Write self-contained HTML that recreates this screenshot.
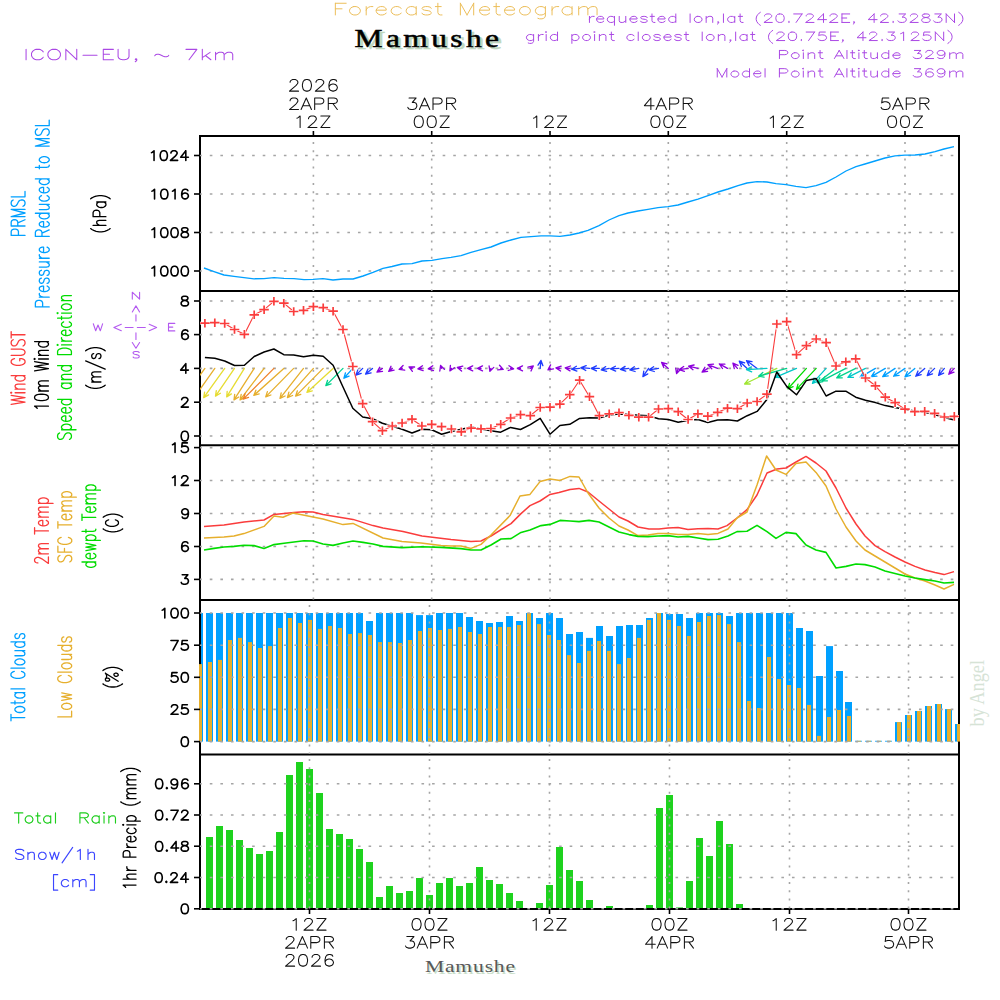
<!DOCTYPE html><html><head><meta charset="utf-8"><style>html,body{margin:0;padding:0;background:#fff;width:1000px;height:1000px;overflow:hidden}svg{display:block}</style></head><body><svg width="1000" height="1000" viewBox="0 0 1000 1000">
<defs><clipPath id="cp"><rect x="200" y="136" width="759" height="773"/></clipPath></defs>
<rect x="0" y="0" width="1000" height="1000" fill="#fff"/>
<rect x="200.0" y="613.0" width="3.0" height="128.6" fill="rgb(0,160,255)"/>
<rect x="206.0" y="613.0" width="7.0" height="128.6" fill="rgb(0,160,255)"/>
<rect x="216.0" y="613.0" width="7.0" height="128.6" fill="rgb(0,160,255)"/>
<rect x="226.0" y="613.0" width="7.0" height="128.6" fill="rgb(0,160,255)"/>
<rect x="236.0" y="613.0" width="7.0" height="128.6" fill="rgb(0,160,255)"/>
<rect x="246.0" y="613.0" width="7.0" height="128.6" fill="rgb(0,160,255)"/>
<rect x="256.0" y="613.0" width="7.0" height="128.6" fill="rgb(0,160,255)"/>
<rect x="266.0" y="613.0" width="7.0" height="128.6" fill="rgb(0,160,255)"/>
<rect x="276.0" y="613.0" width="7.0" height="128.6" fill="rgb(0,160,255)"/>
<rect x="286.0" y="613.0" width="7.0" height="128.6" fill="rgb(0,160,255)"/>
<rect x="296.0" y="613.0" width="7.0" height="128.6" fill="rgb(0,160,255)"/>
<rect x="306.0" y="613.0" width="7.0" height="128.6" fill="rgb(0,160,255)"/>
<rect x="316.0" y="613.0" width="7.0" height="128.6" fill="rgb(0,160,255)"/>
<rect x="326.0" y="613.0" width="7.0" height="128.6" fill="rgb(0,160,255)"/>
<rect x="336.0" y="613.0" width="7.0" height="128.6" fill="rgb(0,160,255)"/>
<rect x="346.0" y="613.0" width="7.0" height="128.6" fill="rgb(0,160,255)"/>
<rect x="356.0" y="613.0" width="7.0" height="128.6" fill="rgb(0,160,255)"/>
<rect x="366.0" y="621.0" width="7.0" height="120.6" fill="rgb(0,160,255)"/>
<rect x="376.0" y="613.0" width="7.0" height="128.6" fill="rgb(0,160,255)"/>
<rect x="386.0" y="613.0" width="7.0" height="128.6" fill="rgb(0,160,255)"/>
<rect x="396.0" y="613.0" width="7.0" height="128.6" fill="rgb(0,160,255)"/>
<rect x="406.0" y="613.0" width="7.0" height="128.6" fill="rgb(0,160,255)"/>
<rect x="416.0" y="615.1" width="7.0" height="126.5" fill="rgb(0,160,255)"/>
<rect x="426.0" y="615.1" width="7.0" height="126.5" fill="rgb(0,160,255)"/>
<rect x="436.0" y="613.0" width="7.0" height="128.6" fill="rgb(0,160,255)"/>
<rect x="446.0" y="613.0" width="7.0" height="128.6" fill="rgb(0,160,255)"/>
<rect x="456.0" y="613.0" width="7.0" height="128.6" fill="rgb(0,160,255)"/>
<rect x="466.0" y="617.0" width="7.0" height="124.6" fill="rgb(0,160,255)"/>
<rect x="476.0" y="621.0" width="7.0" height="120.6" fill="rgb(0,160,255)"/>
<rect x="486.0" y="623.0" width="7.0" height="118.6" fill="rgb(0,160,255)"/>
<rect x="496.0" y="622.0" width="7.0" height="119.6" fill="rgb(0,160,255)"/>
<rect x="506.0" y="616.0" width="7.0" height="125.6" fill="rgb(0,160,255)"/>
<rect x="516.0" y="621.0" width="7.0" height="120.6" fill="rgb(0,160,255)"/>
<rect x="526.0" y="613.0" width="7.0" height="128.6" fill="rgb(0,160,255)"/>
<rect x="536.0" y="618.0" width="7.0" height="123.6" fill="rgb(0,160,255)"/>
<rect x="546.0" y="613.0" width="7.0" height="128.6" fill="rgb(0,160,255)"/>
<rect x="556.0" y="618.0" width="7.0" height="123.6" fill="rgb(0,160,255)"/>
<rect x="566.0" y="634.0" width="7.0" height="107.6" fill="rgb(0,160,255)"/>
<rect x="576.0" y="632.0" width="7.0" height="109.6" fill="rgb(0,160,255)"/>
<rect x="586.0" y="637.9" width="7.0" height="103.7" fill="rgb(0,160,255)"/>
<rect x="596.0" y="626.0" width="7.0" height="115.6" fill="rgb(0,160,255)"/>
<rect x="606.0" y="636.0" width="7.0" height="105.6" fill="rgb(0,160,255)"/>
<rect x="616.0" y="626.0" width="7.0" height="115.6" fill="rgb(0,160,255)"/>
<rect x="626.0" y="625.0" width="7.0" height="116.6" fill="rgb(0,160,255)"/>
<rect x="636.0" y="625.0" width="7.0" height="116.6" fill="rgb(0,160,255)"/>
<rect x="646.0" y="618.0" width="7.0" height="123.6" fill="rgb(0,160,255)"/>
<rect x="656.0" y="613.0" width="7.0" height="128.6" fill="rgb(0,160,255)"/>
<rect x="666.0" y="614.0" width="7.0" height="127.6" fill="rgb(0,160,255)"/>
<rect x="676.0" y="614.0" width="7.0" height="127.6" fill="rgb(0,160,255)"/>
<rect x="686.0" y="618.0" width="7.0" height="123.6" fill="rgb(0,160,255)"/>
<rect x="696.0" y="613.0" width="7.0" height="128.6" fill="rgb(0,160,255)"/>
<rect x="706.0" y="613.0" width="7.0" height="128.6" fill="rgb(0,160,255)"/>
<rect x="716.0" y="613.0" width="7.0" height="128.6" fill="rgb(0,160,255)"/>
<rect x="726.0" y="616.0" width="7.0" height="125.6" fill="rgb(0,160,255)"/>
<rect x="736.0" y="613.0" width="7.0" height="128.6" fill="rgb(0,160,255)"/>
<rect x="746.0" y="613.0" width="7.0" height="128.6" fill="rgb(0,160,255)"/>
<rect x="756.0" y="613.0" width="7.0" height="128.6" fill="rgb(0,160,255)"/>
<rect x="766.0" y="613.0" width="7.0" height="128.6" fill="rgb(0,160,255)"/>
<rect x="776.0" y="613.0" width="7.0" height="128.6" fill="rgb(0,160,255)"/>
<rect x="786.0" y="613.0" width="7.0" height="128.6" fill="rgb(0,160,255)"/>
<rect x="796.0" y="628.0" width="7.0" height="113.6" fill="rgb(0,160,255)"/>
<rect x="806.0" y="631.0" width="7.0" height="110.6" fill="rgb(0,160,255)"/>
<rect x="816.0" y="676.0" width="7.0" height="65.6" fill="rgb(0,160,255)"/>
<rect x="826.0" y="646.1" width="7.0" height="95.5" fill="rgb(0,160,255)"/>
<rect x="836.0" y="671.0" width="7.0" height="70.6" fill="rgb(0,160,255)"/>
<rect x="845.0" y="702.0" width="7.0" height="39.6" fill="rgb(0,160,255)"/>
<rect x="855.0" y="740.8" width="7.0" height="0.8" fill="rgb(0,160,255)"/>
<rect x="865.0" y="740.8" width="7.0" height="0.8" fill="rgb(0,160,255)"/>
<rect x="875.0" y="740.8" width="7.0" height="0.8" fill="rgb(0,160,255)"/>
<rect x="885.0" y="740.8" width="7.0" height="0.8" fill="rgb(0,160,255)"/>
<rect x="895.0" y="722.1" width="7.0" height="19.5" fill="rgb(0,160,255)"/>
<rect x="905.0" y="715.0" width="7.0" height="26.6" fill="rgb(0,160,255)"/>
<rect x="915.0" y="711.0" width="7.0" height="30.6" fill="rgb(0,160,255)"/>
<rect x="925.0" y="706.0" width="7.0" height="35.6" fill="rgb(0,160,255)"/>
<rect x="935.0" y="704.0" width="7.0" height="37.6" fill="rgb(0,160,255)"/>
<rect x="945.0" y="709.1" width="7.0" height="32.5" fill="rgb(0,160,255)"/>
<rect x="955.0" y="724.0" width="4.0" height="17.6" fill="rgb(0,160,255)"/>
<rect x="206.0" y="837.0" width="7" height="71.8" fill="rgb(30,210,30)"/>
<rect x="216.0" y="826.0" width="7" height="82.8" fill="rgb(30,210,30)"/>
<rect x="226.0" y="830.0" width="7" height="78.8" fill="rgb(30,210,30)"/>
<rect x="236.0" y="840.0" width="7" height="68.8" fill="rgb(30,210,30)"/>
<rect x="246.0" y="848.0" width="7" height="60.8" fill="rgb(30,210,30)"/>
<rect x="256.0" y="854.0" width="7" height="54.8" fill="rgb(30,210,30)"/>
<rect x="266.0" y="851.0" width="7" height="57.8" fill="rgb(30,210,30)"/>
<rect x="276.0" y="832.0" width="7" height="76.8" fill="rgb(30,210,30)"/>
<rect x="286.0" y="775.0" width="7" height="133.8" fill="rgb(30,210,30)"/>
<rect x="296.0" y="762.0" width="7" height="146.8" fill="rgb(30,210,30)"/>
<rect x="306.0" y="769.0" width="7" height="139.8" fill="rgb(30,210,30)"/>
<rect x="316.0" y="793.0" width="7" height="115.8" fill="rgb(30,210,30)"/>
<rect x="326.0" y="829.0" width="7" height="79.8" fill="rgb(30,210,30)"/>
<rect x="336.0" y="834.0" width="7" height="74.8" fill="rgb(30,210,30)"/>
<rect x="346.0" y="839.0" width="7" height="69.8" fill="rgb(30,210,30)"/>
<rect x="356.0" y="849.0" width="7" height="59.8" fill="rgb(30,210,30)"/>
<rect x="366.0" y="862.0" width="7" height="46.8" fill="rgb(30,210,30)"/>
<rect x="376.0" y="897.0" width="7" height="11.8" fill="rgb(30,210,30)"/>
<rect x="386.0" y="886.0" width="7" height="22.8" fill="rgb(30,210,30)"/>
<rect x="396.0" y="893.0" width="7" height="15.8" fill="rgb(30,210,30)"/>
<rect x="406.0" y="891.0" width="7" height="17.8" fill="rgb(30,210,30)"/>
<rect x="416.0" y="878.0" width="7" height="30.8" fill="rgb(30,210,30)"/>
<rect x="426.0" y="895.0" width="7" height="13.8" fill="rgb(30,210,30)"/>
<rect x="436.0" y="883.0" width="7" height="25.8" fill="rgb(30,210,30)"/>
<rect x="446.0" y="878.0" width="7" height="30.8" fill="rgb(30,210,30)"/>
<rect x="456.0" y="886.0" width="7" height="22.8" fill="rgb(30,210,30)"/>
<rect x="466.0" y="883.0" width="7" height="25.8" fill="rgb(30,210,30)"/>
<rect x="476.0" y="867.0" width="7" height="41.8" fill="rgb(30,210,30)"/>
<rect x="486.0" y="880.0" width="7" height="28.8" fill="rgb(30,210,30)"/>
<rect x="496.0" y="884.0" width="7" height="24.8" fill="rgb(30,210,30)"/>
<rect x="506.0" y="893.0" width="7" height="15.8" fill="rgb(30,210,30)"/>
<rect x="516.0" y="901.0" width="7" height="7.8" fill="rgb(30,210,30)"/>
<rect x="536.0" y="903.0" width="7" height="5.8" fill="rgb(30,210,30)"/>
<rect x="546.0" y="885.0" width="7" height="23.8" fill="rgb(30,210,30)"/>
<rect x="556.0" y="847.0" width="7" height="61.8" fill="rgb(30,210,30)"/>
<rect x="566.0" y="870.0" width="7" height="38.8" fill="rgb(30,210,30)"/>
<rect x="576.0" y="881.0" width="7" height="27.8" fill="rgb(30,210,30)"/>
<rect x="586.0" y="900.0" width="7" height="8.8" fill="rgb(30,210,30)"/>
<rect x="606.0" y="906.0" width="7" height="2.8" fill="rgb(30,210,30)"/>
<rect x="616.0" y="908.2" width="7" height="0.5" fill="rgb(30,210,30)"/>
<rect x="626.0" y="908.2" width="7" height="0.5" fill="rgb(30,210,30)"/>
<rect x="646.0" y="905.0" width="7" height="3.8" fill="rgb(30,210,30)"/>
<rect x="656.0" y="808.0" width="7" height="100.8" fill="rgb(30,210,30)"/>
<rect x="666.0" y="795.0" width="7" height="113.8" fill="rgb(30,210,30)"/>
<rect x="676.0" y="907.4" width="7" height="1.4" fill="rgb(30,210,30)"/>
<rect x="686.0" y="881.0" width="7" height="27.8" fill="rgb(30,210,30)"/>
<rect x="696.0" y="838.0" width="7" height="70.8" fill="rgb(30,210,30)"/>
<rect x="706.0" y="856.0" width="7" height="52.8" fill="rgb(30,210,30)"/>
<rect x="716.0" y="821.0" width="7" height="87.8" fill="rgb(30,210,30)"/>
<rect x="726.0" y="844.0" width="7" height="64.8" fill="rgb(30,210,30)"/>
<rect x="736.0" y="904.0" width="7" height="4.8" fill="rgb(30,210,30)"/>
<rect x="746.0" y="908.2" width="7" height="0.5" fill="rgb(30,210,30)"/>
<g stroke="#000" stroke-width="2" fill="none">
<path d="M200,136.1 H959 V909 H200 Z" stroke-width="2"/>
<line x1="200" y1="291" x2="959" y2="291"/>
<line x1="200" y1="445.2" x2="959" y2="445.2"/>
<line x1="200" y1="600" x2="959" y2="600"/>
<line x1="200" y1="754.4" x2="959" y2="754.4"/>
</g>
<rect x="199.0" y="664.1" width="3.0" height="77.5" fill="rgb(230,175,45)"/>
<rect x="208.0" y="662.0" width="4.0" height="79.6" fill="rgb(230,175,45)"/>
<rect x="218.0" y="659.9" width="4.0" height="81.7" fill="rgb(230,175,45)"/>
<rect x="228.0" y="640.0" width="4.0" height="101.6" fill="rgb(230,175,45)"/>
<rect x="238.0" y="637.9" width="4.0" height="103.7" fill="rgb(230,175,45)"/>
<rect x="248.0" y="642.1" width="4.0" height="99.5" fill="rgb(230,175,45)"/>
<rect x="258.0" y="648.0" width="4.0" height="93.6" fill="rgb(230,175,45)"/>
<rect x="268.0" y="646.1" width="4.0" height="95.5" fill="rgb(230,175,45)"/>
<rect x="278.0" y="628.0" width="4.0" height="113.6" fill="rgb(230,175,45)"/>
<rect x="288.0" y="618.0" width="4.0" height="123.6" fill="rgb(230,175,45)"/>
<rect x="298.0" y="623.0" width="4.0" height="118.6" fill="rgb(230,175,45)"/>
<rect x="308.0" y="619.9" width="4.0" height="121.7" fill="rgb(230,175,45)"/>
<rect x="318.0" y="628.9" width="4.0" height="112.7" fill="rgb(230,175,45)"/>
<rect x="328.0" y="626.0" width="4.0" height="115.6" fill="rgb(230,175,45)"/>
<rect x="338.0" y="628.0" width="4.0" height="113.6" fill="rgb(230,175,45)"/>
<rect x="348.0" y="634.0" width="4.0" height="107.6" fill="rgb(230,175,45)"/>
<rect x="358.0" y="633.1" width="4.0" height="108.5" fill="rgb(230,175,45)"/>
<rect x="368.0" y="635.0" width="4.0" height="106.6" fill="rgb(230,175,45)"/>
<rect x="378.0" y="642.1" width="4.0" height="99.5" fill="rgb(230,175,45)"/>
<rect x="388.0" y="642.1" width="4.0" height="99.5" fill="rgb(230,175,45)"/>
<rect x="398.0" y="643.0" width="4.0" height="98.6" fill="rgb(230,175,45)"/>
<rect x="408.0" y="640.0" width="4.0" height="101.6" fill="rgb(230,175,45)"/>
<rect x="418.0" y="631.0" width="4.0" height="110.6" fill="rgb(230,175,45)"/>
<rect x="428.0" y="628.0" width="4.0" height="113.6" fill="rgb(230,175,45)"/>
<rect x="438.0" y="630.0" width="4.0" height="111.6" fill="rgb(230,175,45)"/>
<rect x="448.0" y="628.9" width="4.0" height="112.7" fill="rgb(230,175,45)"/>
<rect x="458.0" y="627.0" width="4.0" height="114.6" fill="rgb(230,175,45)"/>
<rect x="468.0" y="632.0" width="4.0" height="109.6" fill="rgb(230,175,45)"/>
<rect x="478.0" y="634.0" width="4.0" height="107.6" fill="rgb(230,175,45)"/>
<rect x="488.0" y="627.0" width="4.0" height="114.6" fill="rgb(230,175,45)"/>
<rect x="498.0" y="627.0" width="4.0" height="114.6" fill="rgb(230,175,45)"/>
<rect x="507.0" y="627.0" width="4.0" height="114.6" fill="rgb(230,175,45)"/>
<rect x="517.0" y="625.0" width="4.0" height="116.6" fill="rgb(230,175,45)"/>
<rect x="527.0" y="613.0" width="4.0" height="128.6" fill="rgb(230,175,45)"/>
<rect x="537.0" y="624.1" width="4.0" height="117.5" fill="rgb(230,175,45)"/>
<rect x="547.0" y="635.0" width="4.0" height="106.6" fill="rgb(230,175,45)"/>
<rect x="557.0" y="640.0" width="4.0" height="101.6" fill="rgb(230,175,45)"/>
<rect x="567.0" y="655.1" width="4.0" height="86.5" fill="rgb(230,175,45)"/>
<rect x="577.0" y="663.0" width="4.0" height="78.6" fill="rgb(230,175,45)"/>
<rect x="587.0" y="650.9" width="4.0" height="90.7" fill="rgb(230,175,45)"/>
<rect x="597.0" y="641.0" width="4.0" height="100.6" fill="rgb(230,175,45)"/>
<rect x="607.0" y="650.9" width="4.0" height="90.7" fill="rgb(230,175,45)"/>
<rect x="617.0" y="664.1" width="4.0" height="77.5" fill="rgb(230,175,45)"/>
<rect x="627.0" y="658.0" width="4.0" height="83.6" fill="rgb(230,175,45)"/>
<rect x="637.0" y="637.9" width="4.0" height="103.7" fill="rgb(230,175,45)"/>
<rect x="647.0" y="619.9" width="4.0" height="121.7" fill="rgb(230,175,45)"/>
<rect x="657.0" y="613.0" width="4.0" height="128.6" fill="rgb(230,175,45)"/>
<rect x="667.0" y="619.9" width="4.0" height="121.7" fill="rgb(230,175,45)"/>
<rect x="677.0" y="626.0" width="4.0" height="115.6" fill="rgb(230,175,45)"/>
<rect x="687.0" y="636.0" width="4.0" height="105.6" fill="rgb(230,175,45)"/>
<rect x="697.0" y="622.0" width="4.0" height="119.6" fill="rgb(230,175,45)"/>
<rect x="707.0" y="616.0" width="4.0" height="125.6" fill="rgb(230,175,45)"/>
<rect x="717.0" y="615.1" width="4.0" height="126.5" fill="rgb(230,175,45)"/>
<rect x="727.0" y="624.1" width="4.0" height="117.5" fill="rgb(230,175,45)"/>
<rect x="737.0" y="642.1" width="4.0" height="99.5" fill="rgb(230,175,45)"/>
<rect x="747.0" y="701.0" width="4.0" height="40.6" fill="rgb(230,175,45)"/>
<rect x="757.0" y="708.0" width="4.0" height="33.6" fill="rgb(230,175,45)"/>
<rect x="767.0" y="657.0" width="4.0" height="84.6" fill="rgb(230,175,45)"/>
<rect x="777.0" y="679.0" width="4.0" height="62.6" fill="rgb(230,175,45)"/>
<rect x="787.0" y="685.0" width="4.0" height="56.6" fill="rgb(230,175,45)"/>
<rect x="797.0" y="688.0" width="4.0" height="53.6" fill="rgb(230,175,45)"/>
<rect x="807.0" y="704.9" width="4.0" height="36.7" fill="rgb(230,175,45)"/>
<rect x="817.0" y="735.9" width="4.0" height="5.7" fill="rgb(230,175,45)"/>
<rect x="827.0" y="717.0" width="4.0" height="24.6" fill="rgb(230,175,45)"/>
<rect x="837.0" y="710.0" width="4.0" height="31.6" fill="rgb(230,175,45)"/>
<rect x="847.0" y="716.0" width="4.0" height="25.6" fill="rgb(230,175,45)"/>
<rect x="857.0" y="740.8" width="4.0" height="0.8" fill="rgb(230,175,45)"/>
<rect x="867.0" y="740.8" width="4.0" height="0.8" fill="rgb(230,175,45)"/>
<rect x="877.0" y="740.8" width="4.0" height="0.8" fill="rgb(230,175,45)"/>
<rect x="887.0" y="740.8" width="4.0" height="0.8" fill="rgb(230,175,45)"/>
<rect x="897.0" y="722.1" width="4.0" height="19.5" fill="rgb(230,175,45)"/>
<rect x="907.0" y="715.0" width="4.0" height="26.6" fill="rgb(230,175,45)"/>
<rect x="917.0" y="711.0" width="4.0" height="30.6" fill="rgb(230,175,45)"/>
<rect x="927.0" y="706.0" width="4.0" height="35.6" fill="rgb(230,175,45)"/>
<rect x="937.0" y="704.0" width="4.0" height="37.6" fill="rgb(230,175,45)"/>
<rect x="947.0" y="709.1" width="4.0" height="32.5" fill="rgb(230,175,45)"/>
<rect x="957.0" y="724.0" width="3.0" height="17.6" fill="rgb(230,175,45)"/>
<line x1="200" y1="155.5" x2="959" y2="155.5" stroke="rgb(165,165,165)" stroke-width="1.6" stroke-dasharray="2.6 7.985" stroke-dashoffset="0.8"/>
<line x1="200" y1="194.0" x2="959" y2="194.0" stroke="rgb(165,165,165)" stroke-width="1.6" stroke-dasharray="2.6 7.985" stroke-dashoffset="0.8"/>
<line x1="200" y1="232.5" x2="959" y2="232.5" stroke="rgb(165,165,165)" stroke-width="1.6" stroke-dasharray="2.6 7.985" stroke-dashoffset="0.8"/>
<line x1="200" y1="271.0" x2="959" y2="271.0" stroke="rgb(165,165,165)" stroke-width="1.6" stroke-dasharray="2.6 7.985" stroke-dashoffset="0.8"/>
<line x1="200" y1="301.0" x2="959" y2="301.0" stroke="rgb(165,165,165)" stroke-width="1.6" stroke-dasharray="2.6 7.985" stroke-dashoffset="0.8"/>
<line x1="200" y1="334.6" x2="959" y2="334.6" stroke="rgb(165,165,165)" stroke-width="1.6" stroke-dasharray="2.6 7.985" stroke-dashoffset="0.8"/>
<line x1="200" y1="368.4" x2="959" y2="368.4" stroke="rgb(165,165,165)" stroke-width="1.6" stroke-dasharray="2.6 7.985" stroke-dashoffset="0.8"/>
<line x1="200" y1="402.2" x2="959" y2="402.2" stroke="rgb(165,165,165)" stroke-width="1.6" stroke-dasharray="2.6 7.985" stroke-dashoffset="0.8"/>
<line x1="200" y1="436.0" x2="959" y2="436.0" stroke="rgb(165,165,165)" stroke-width="1.6" stroke-dasharray="2.6 7.985" stroke-dashoffset="0.8"/>
<line x1="200" y1="447.6" x2="959" y2="447.6" stroke="rgb(165,165,165)" stroke-width="1.6" stroke-dasharray="2.6 7.985" stroke-dashoffset="0.8"/>
<line x1="200" y1="480.5" x2="959" y2="480.5" stroke="rgb(165,165,165)" stroke-width="1.6" stroke-dasharray="2.6 7.985" stroke-dashoffset="0.8"/>
<line x1="200" y1="513.5" x2="959" y2="513.5" stroke="rgb(165,165,165)" stroke-width="1.6" stroke-dasharray="2.6 7.985" stroke-dashoffset="0.8"/>
<line x1="200" y1="546.5" x2="959" y2="546.5" stroke="rgb(165,165,165)" stroke-width="1.6" stroke-dasharray="2.6 7.985" stroke-dashoffset="0.8"/>
<line x1="200" y1="579.4" x2="959" y2="579.4" stroke="rgb(165,165,165)" stroke-width="1.6" stroke-dasharray="2.6 7.985" stroke-dashoffset="0.8"/>
<line x1="200" y1="613.0" x2="959" y2="613.0" stroke="rgb(165,165,165)" stroke-width="1.6" stroke-dasharray="2.6 7.985" stroke-dashoffset="0.8"/>
<line x1="200" y1="645.2" x2="959" y2="645.2" stroke="rgb(165,165,165)" stroke-width="1.6" stroke-dasharray="2.6 7.985" stroke-dashoffset="0.8"/>
<line x1="200" y1="677.3" x2="959" y2="677.3" stroke="rgb(165,165,165)" stroke-width="1.6" stroke-dasharray="2.6 7.985" stroke-dashoffset="0.8"/>
<line x1="200" y1="709.4" x2="959" y2="709.4" stroke="rgb(165,165,165)" stroke-width="1.6" stroke-dasharray="2.6 7.985" stroke-dashoffset="0.8"/>
<line x1="200" y1="741.6" x2="959" y2="741.6" stroke="rgb(165,165,165)" stroke-width="1.6" stroke-dasharray="2.6 7.985" stroke-dashoffset="0.8"/>
<line x1="200" y1="783.8" x2="959" y2="783.8" stroke="rgb(165,165,165)" stroke-width="1.6" stroke-dasharray="2.6 7.985" stroke-dashoffset="0.8"/>
<line x1="200" y1="815.0" x2="959" y2="815.0" stroke="rgb(165,165,165)" stroke-width="1.6" stroke-dasharray="2.6 7.985" stroke-dashoffset="0.8"/>
<line x1="200" y1="846.2" x2="959" y2="846.2" stroke="rgb(165,165,165)" stroke-width="1.6" stroke-dasharray="2.6 7.985" stroke-dashoffset="0.8"/>
<line x1="200" y1="877.5" x2="959" y2="877.5" stroke="rgb(165,165,165)" stroke-width="1.6" stroke-dasharray="2.6 7.985" stroke-dashoffset="0.8"/>
<line x1="200" y1="908.8" x2="959" y2="908.8" stroke="rgb(165,165,165)" stroke-width="1.6" stroke-dasharray="2.6 7.985" stroke-dashoffset="0.8"/>
<line x1="313.4" y1="142.0" x2="313.4" y2="291.0" stroke="rgb(165,165,165)" stroke-width="1.6" stroke-dasharray="2 6.2"/>
<line x1="313.4" y1="296.0" x2="313.4" y2="445.0" stroke="rgb(165,165,165)" stroke-width="1.6" stroke-dasharray="2 6.2"/>
<line x1="313.4" y1="450.0" x2="313.4" y2="600.0" stroke="rgb(165,165,165)" stroke-width="1.6" stroke-dasharray="2 6.2"/>
<line x1="431.7" y1="142.0" x2="431.7" y2="291.0" stroke="rgb(165,165,165)" stroke-width="1.6" stroke-dasharray="2 6.2"/>
<line x1="431.7" y1="296.0" x2="431.7" y2="445.0" stroke="rgb(165,165,165)" stroke-width="1.6" stroke-dasharray="2 6.2"/>
<line x1="431.7" y1="450.0" x2="431.7" y2="600.0" stroke="rgb(165,165,165)" stroke-width="1.6" stroke-dasharray="2 6.2"/>
<line x1="550.0" y1="142.0" x2="550.0" y2="291.0" stroke="rgb(165,165,165)" stroke-width="1.6" stroke-dasharray="2 6.2"/>
<line x1="550.0" y1="296.0" x2="550.0" y2="445.0" stroke="rgb(165,165,165)" stroke-width="1.6" stroke-dasharray="2 6.2"/>
<line x1="550.0" y1="450.0" x2="550.0" y2="600.0" stroke="rgb(165,165,165)" stroke-width="1.6" stroke-dasharray="2 6.2"/>
<line x1="668.3" y1="142.0" x2="668.3" y2="291.0" stroke="rgb(165,165,165)" stroke-width="1.6" stroke-dasharray="2 6.2"/>
<line x1="668.3" y1="296.0" x2="668.3" y2="445.0" stroke="rgb(165,165,165)" stroke-width="1.6" stroke-dasharray="2 6.2"/>
<line x1="668.3" y1="450.0" x2="668.3" y2="600.0" stroke="rgb(165,165,165)" stroke-width="1.6" stroke-dasharray="2 6.2"/>
<line x1="786.7" y1="142.0" x2="786.7" y2="291.0" stroke="rgb(165,165,165)" stroke-width="1.6" stroke-dasharray="2 6.2"/>
<line x1="786.7" y1="296.0" x2="786.7" y2="445.0" stroke="rgb(165,165,165)" stroke-width="1.6" stroke-dasharray="2 6.2"/>
<line x1="786.7" y1="450.0" x2="786.7" y2="600.0" stroke="rgb(165,165,165)" stroke-width="1.6" stroke-dasharray="2 6.2"/>
<line x1="905.0" y1="142.0" x2="905.0" y2="291.0" stroke="rgb(165,165,165)" stroke-width="1.6" stroke-dasharray="2 6.2"/>
<line x1="905.0" y1="296.0" x2="905.0" y2="445.0" stroke="rgb(165,165,165)" stroke-width="1.6" stroke-dasharray="2 6.2"/>
<line x1="905.0" y1="450.0" x2="905.0" y2="600.0" stroke="rgb(165,165,165)" stroke-width="1.6" stroke-dasharray="2 6.2"/>
<line x1="309.5" y1="605.0" x2="309.5" y2="754.0" stroke="rgb(165,165,165)" stroke-width="1.6" stroke-dasharray="2 6.2"/>
<line x1="309.5" y1="759.0" x2="309.5" y2="909.0" stroke="rgb(165,165,165)" stroke-width="1.6" stroke-dasharray="2 6.2"/>
<line x1="429.5" y1="605.0" x2="429.5" y2="754.0" stroke="rgb(165,165,165)" stroke-width="1.6" stroke-dasharray="2 6.2"/>
<line x1="429.5" y1="759.0" x2="429.5" y2="909.0" stroke="rgb(165,165,165)" stroke-width="1.6" stroke-dasharray="2 6.2"/>
<line x1="549.5" y1="605.0" x2="549.5" y2="754.0" stroke="rgb(165,165,165)" stroke-width="1.6" stroke-dasharray="2 6.2"/>
<line x1="549.5" y1="759.0" x2="549.5" y2="909.0" stroke="rgb(165,165,165)" stroke-width="1.6" stroke-dasharray="2 6.2"/>
<line x1="669.5" y1="605.0" x2="669.5" y2="754.0" stroke="rgb(165,165,165)" stroke-width="1.6" stroke-dasharray="2 6.2"/>
<line x1="669.5" y1="759.0" x2="669.5" y2="909.0" stroke="rgb(165,165,165)" stroke-width="1.6" stroke-dasharray="2 6.2"/>
<line x1="789.5" y1="605.0" x2="789.5" y2="754.0" stroke="rgb(165,165,165)" stroke-width="1.6" stroke-dasharray="2 6.2"/>
<line x1="789.5" y1="759.0" x2="789.5" y2="909.0" stroke="rgb(165,165,165)" stroke-width="1.6" stroke-dasharray="2 6.2"/>
<line x1="908.5" y1="605.0" x2="908.5" y2="754.0" stroke="rgb(165,165,165)" stroke-width="1.6" stroke-dasharray="2 6.2"/>
<line x1="908.5" y1="759.0" x2="908.5" y2="909.0" stroke="rgb(165,165,165)" stroke-width="1.6" stroke-dasharray="2 6.2"/>
<g stroke="#000" stroke-width="1.6">
<line x1="194" y1="155.5" x2="200" y2="155.5"/>
<line x1="194" y1="194.0" x2="200" y2="194.0"/>
<line x1="194" y1="232.5" x2="200" y2="232.5"/>
<line x1="194" y1="271.0" x2="200" y2="271.0"/>
<line x1="194" y1="301.0" x2="200" y2="301.0"/>
<line x1="194" y1="334.6" x2="200" y2="334.6"/>
<line x1="194" y1="368.4" x2="200" y2="368.4"/>
<line x1="194" y1="402.2" x2="200" y2="402.2"/>
<line x1="194" y1="436.0" x2="200" y2="436.0"/>
<line x1="194" y1="447.6" x2="200" y2="447.6"/>
<line x1="194" y1="480.5" x2="200" y2="480.5"/>
<line x1="194" y1="513.5" x2="200" y2="513.5"/>
<line x1="194" y1="546.5" x2="200" y2="546.5"/>
<line x1="194" y1="579.4" x2="200" y2="579.4"/>
<line x1="194" y1="613.0" x2="200" y2="613.0"/>
<line x1="194" y1="645.2" x2="200" y2="645.2"/>
<line x1="194" y1="677.3" x2="200" y2="677.3"/>
<line x1="194" y1="709.4" x2="200" y2="709.4"/>
<line x1="194" y1="741.6" x2="200" y2="741.6"/>
<line x1="194" y1="783.8" x2="200" y2="783.8"/>
<line x1="194" y1="815.0" x2="200" y2="815.0"/>
<line x1="194" y1="846.2" x2="200" y2="846.2"/>
<line x1="194" y1="877.5" x2="200" y2="877.5"/>
<line x1="194" y1="908.8" x2="200" y2="908.8"/>
<line x1="313.4" y1="131" x2="313.4" y2="136"/>
<line x1="431.7" y1="131" x2="431.7" y2="136"/>
<line x1="550.0" y1="131" x2="550.0" y2="136"/>
<line x1="668.3" y1="131" x2="668.3" y2="136"/>
<line x1="786.7" y1="131" x2="786.7" y2="136"/>
<line x1="905.0" y1="131" x2="905.0" y2="136"/>
<line x1="309.5" y1="909" x2="309.5" y2="914"/>
<line x1="429.5" y1="909" x2="429.5" y2="914"/>
<line x1="549.5" y1="909" x2="549.5" y2="914"/>
<line x1="669.5" y1="909" x2="669.5" y2="914"/>
<line x1="789.5" y1="909" x2="789.5" y2="914"/>
<line x1="908.5" y1="909" x2="908.5" y2="914"/>
</g>
<g clip-path="url(#cp)">
<polyline points="204.0,268.0 214.0,271.6 224.0,275.0 234.0,276.4 244.0,277.6 254.0,278.8 264.0,278.6 274.0,277.6 284.0,278.4 294.0,278.6 304.0,279.6 313.0,279.4 323.0,278.6 333.0,280.0 343.0,279.0 353.0,279.0 363.0,276.0 373.0,272.4 383.0,268.4 392.0,266.5 402.0,264.0 412.0,263.6 422.0,261.0 432.0,260.4 442.0,258.6 451.0,257.4 461.0,255.6 471.0,252.4 481.0,249.6 491.0,247.0 501.0,243.0 511.0,240.0 521.0,237.4 531.0,236.6 541.0,235.8 550.0,235.8 560.0,236.4 570.0,235.0 579.0,233.0 588.0,230.4 599.0,225.6 609.0,220.0 619.0,215.6 628.0,213.0 638.0,211.0 648.0,209.4 658.0,207.6 668.0,206.6 678.0,205.0 688.0,202.0 698.0,199.2 708.0,195.6 718.0,192.0 728.0,189.0 738.0,185.6 747.0,183.0 757.0,181.6 767.0,182.0 776.0,183.6 786.0,184.6 796.0,186.4 806.0,187.6 816.0,185.6 826.0,182.4 836.0,177.0 846.0,171.0 856.0,166.6 865.0,164.0 875.0,161.0 885.0,158.0 895.0,155.8 905.0,155.2 915.0,155.0 925.0,154.0 935.0,151.6 944.0,149.0 954.0,146.6" fill="none" stroke="rgb(0,160,255)" stroke-width="1.35" stroke-linejoin="round" />
<polyline points="204.0,526.4 224.0,525.0 244.0,522.0 264.0,520.0 274.0,514.4 294.0,512.4 304.0,511.8 313.0,512.0 323.0,514.4 353.0,519.4 373.0,525.6 383.0,528.0 403.0,531.6 422.0,536.0 451.0,539.6 471.0,541.6 481.0,541.0 491.0,536.0 511.0,523.6 521.0,513.6 530.0,505.6 540.0,501.0 550.0,494.4 559.0,492.4 570.0,489.6 579.0,488.4 588.0,492.0 599.0,501.0 609.0,509.0 619.0,517.0 628.0,521.0 638.0,527.0 649.0,529.0 659.0,529.0 668.0,528.0 678.0,527.4 688.0,529.6 698.0,528.8 708.0,528.4 718.0,529.0 727.0,525.6 737.0,518.0 747.0,509.6 757.0,495.0 767.0,473.0 777.0,469.0 786.0,468.0 796.0,462.0 806.0,456.4 816.0,463.0 826.0,471.0 836.0,488.0 846.0,508.0 856.0,524.0 865.0,536.0 875.0,545.6 885.0,551.6 895.0,557.0 905.0,562.0 915.0,566.4 925.0,570.0 935.0,572.6 944.0,574.6 954.0,571.6" fill="none" stroke="rgb(250,60,60)" stroke-width="1.5" stroke-linejoin="round" />
<polyline points="204.0,538.0 224.0,537.0 234.0,536.0 244.0,533.6 264.0,526.4 274.0,516.0 283.0,517.2 293.0,513.0 303.0,515.0 313.0,517.0 323.0,519.0 343.0,524.6 353.0,523.4 383.0,538.0 402.0,541.6 421.0,543.0 441.0,545.6 451.0,546.0 461.0,546.0 471.0,548.4 481.0,544.4 491.0,535.0 510.0,515.6 520.0,496.0 530.0,494.4 540.0,481.6 550.0,479.0 560.0,480.4 570.0,476.4 579.0,477.0 588.0,493.0 599.0,508.0 609.0,518.0 619.0,526.0 628.0,530.0 638.0,535.6 648.0,535.0 658.0,533.4 668.0,533.6 678.0,534.4 688.0,534.4 698.0,533.4 708.0,534.4 718.0,533.4 728.0,529.0 737.0,518.0 747.0,512.0 757.0,485.0 766.6,456.0 776.0,470.0 786.0,474.4 796.0,463.6 806.0,462.0 816.0,472.4 826.0,486.0 836.0,509.0 846.0,527.0 856.0,541.0 865.0,550.0 875.0,556.0 885.0,562.0 895.0,568.0 905.0,574.0 915.0,578.0 925.0,581.0 935.0,585.0 944.0,589.0 954.0,584.4" fill="none" stroke="rgb(230,175,45)" stroke-width="1.5" stroke-linejoin="round" />
<polyline points="204.0,550.0 214.0,548.4 224.0,547.0 234.0,546.4 244.0,545.2 254.0,545.6 264.0,548.4 274.0,544.6 284.0,543.2 294.0,542.0 304.0,540.8 313.0,541.0 323.0,544.0 333.0,545.4 343.0,543.0 353.0,541.0 363.0,542.4 373.0,544.0 383.0,546.4 402.0,547.6 422.0,546.8 441.0,547.4 461.0,548.6 471.0,550.0 481.0,550.0 491.0,545.0 501.0,539.0 511.0,538.6 521.0,532.4 530.0,530.0 541.0,525.6 550.0,524.4 560.0,520.4 570.0,521.0 579.0,521.6 589.0,520.4 599.0,522.0 609.0,527.0 619.0,532.0 629.0,534.6 638.0,536.4 648.0,536.6 658.0,536.0 668.0,535.6 678.0,537.0 688.0,536.4 698.0,538.0 708.0,539.6 718.0,539.2 728.0,536.0 737.0,531.6 747.0,531.2 757.0,525.4 767.0,531.6 776.0,538.4 786.0,532.4 796.0,533.6 806.0,545.0 816.0,550.0 826.0,552.4 836.0,568.0 846.0,566.4 856.0,564.0 865.0,564.6 875.0,567.0 885.0,571.0 895.0,573.6 905.0,576.0 915.0,578.0 925.0,579.6 935.0,581.0 944.0,583.0 954.0,582.4" fill="none" stroke="rgb(0,220,0)" stroke-width="1.6" stroke-linejoin="round" />
<path d="M204.9,368.4L182.9,398.4M187.9,395.8L182.9,398.4L183.9,392.9" stroke="rgb(230,175,45)" stroke-width="1.3" fill="none" stroke-linecap="round" stroke-linejoin="round"/>
<path d="M214.8,368.4L192.8,399.4M197.7,396.7L192.8,399.4L193.7,393.9" stroke="rgb(230,175,45)" stroke-width="1.3" fill="none" stroke-linecap="round" stroke-linejoin="round"/>
<path d="M224.7,368.4L203.7,397.6M208.6,394.9L203.7,397.6L204.6,392.1" stroke="rgb(230,220,50)" stroke-width="1.3" fill="none" stroke-linecap="round" stroke-linejoin="round"/>
<path d="M234.5,368.4L215.5,396.1M220.4,393.3L215.5,396.1L216.3,390.6" stroke="rgb(230,220,50)" stroke-width="1.3" fill="none" stroke-linecap="round" stroke-linejoin="round"/>
<path d="M244.4,368.4L226.7,396.9M231.4,393.9L226.7,396.9L227.2,391.3" stroke="rgb(230,220,50)" stroke-width="1.3" fill="none" stroke-linecap="round" stroke-linejoin="round"/>
<path d="M254.2,368.4L234.0,399.9M238.8,397.0L234.0,399.9L234.7,394.3" stroke="rgb(230,175,45)" stroke-width="1.3" fill="none" stroke-linecap="round" stroke-linejoin="round"/>
<path d="M264.1,368.4L240.1,399.9M245.1,397.4L240.1,399.9L241.2,394.4" stroke="rgb(230,175,45)" stroke-width="1.3" fill="none" stroke-linecap="round" stroke-linejoin="round"/>
<path d="M273.9,368.4L243.2,399.1M248.5,397.3L243.2,399.1L245.1,393.8" stroke="rgb(240,130,40)" stroke-width="1.3" fill="none" stroke-linecap="round" stroke-linejoin="round"/>
<path d="M283.8,368.4L253.8,395.4M259.2,393.9L253.8,395.4L255.9,390.2" stroke="rgb(230,175,45)" stroke-width="1.3" fill="none" stroke-linecap="round" stroke-linejoin="round"/>
<path d="M293.7,368.4L265.7,396.9M270.9,395.0L265.7,396.9L267.4,391.6" stroke="rgb(230,175,45)" stroke-width="1.3" fill="none" stroke-linecap="round" stroke-linejoin="round"/>
<path d="M303.5,368.4L280.0,398.4M285.1,396.0L280.0,398.4L281.2,392.9" stroke="rgb(230,175,45)" stroke-width="1.3" fill="none" stroke-linecap="round" stroke-linejoin="round"/>
<path d="M313.4,368.4L287.4,397.6M292.6,395.5L287.4,397.6L288.9,392.2" stroke="rgb(230,175,45)" stroke-width="1.3" fill="none" stroke-linecap="round" stroke-linejoin="round"/>
<path d="M323.2,368.4L295.6,396.1M300.8,394.3L295.6,396.1L297.4,390.8" stroke="rgb(230,175,45)" stroke-width="1.3" fill="none" stroke-linecap="round" stroke-linejoin="round"/>
<path d="M333.1,368.4L306.9,392.4M312.3,390.8L306.9,392.4L309.0,387.2" stroke="rgb(230,220,50)" stroke-width="1.3" fill="none" stroke-linecap="round" stroke-linejoin="round"/>
<path d="M343.0,368.4L325.8,385.6M331.1,383.8L325.8,385.6L327.6,380.3" stroke="rgb(0,210,140)" stroke-width="1.3" fill="none" stroke-linecap="round" stroke-linejoin="round"/>
<path d="M352.8,368.4L343.9,378.2M349.1,376.1L343.9,378.2L345.5,372.8" stroke="rgb(0,160,255)" stroke-width="1.3" fill="none" stroke-linecap="round" stroke-linejoin="round"/>
<path d="M362.7,368.4L355.9,375.1M361.2,373.3L355.9,375.1L357.8,369.9" stroke="rgb(30,60,255)" stroke-width="1.3" fill="none" stroke-linecap="round" stroke-linejoin="round"/>
<path d="M372.5,368.4L365.6,374.1M371.1,372.8L365.6,374.1L368.0,369.0" stroke="rgb(30,60,255)" stroke-width="1.3" fill="none" stroke-linecap="round" stroke-linejoin="round"/>
<path d="M382.4,368.4L377.0,372.1M382.5,371.3L377.0,372.1L379.7,367.3" stroke="rgb(140,0,220)" stroke-width="1.3" fill="none" stroke-linecap="round" stroke-linejoin="round"/>
<path d="M392.3,368.4L388.7,371.4M394.1,370.1L388.7,371.4L391.0,366.3" stroke="rgb(140,0,220)" stroke-width="1.3" fill="none" stroke-linecap="round" stroke-linejoin="round"/>
<path d="M402.1,368.4L399.1,369.4M404.7,370.1L399.1,369.4L403.1,365.5" stroke="rgb(140,0,220)" stroke-width="1.3" fill="none" stroke-linecap="round" stroke-linejoin="round"/>
<path d="M412.0,368.4L409.0,366.9M412.4,371.3L409.0,366.9L414.6,367.0" stroke="rgb(140,0,220)" stroke-width="1.3" fill="none" stroke-linecap="round" stroke-linejoin="round"/>
<path d="M421.9,368.4L417.9,368.9M423.1,370.7L417.9,368.9L422.5,365.8" stroke="rgb(140,0,220)" stroke-width="1.3" fill="none" stroke-linecap="round" stroke-linejoin="round"/>
<path d="M431.7,368.4L428.2,368.9M433.5,370.6L428.2,368.9L432.8,365.8" stroke="rgb(140,0,220)" stroke-width="1.3" fill="none" stroke-linecap="round" stroke-linejoin="round"/>
<path d="M441.6,368.4L440.6,365.4M439.8,371.0L440.6,365.4L444.5,369.4" stroke="rgb(140,0,220)" stroke-width="1.3" fill="none" stroke-linecap="round" stroke-linejoin="round"/>
<path d="M451.4,368.4L449.9,370.9M454.6,367.8L449.9,370.9L450.4,365.3" stroke="rgb(140,0,220)" stroke-width="1.3" fill="none" stroke-linecap="round" stroke-linejoin="round"/>
<path d="M461.3,368.4L457.3,367.4M461.6,371.0L457.3,367.4L462.8,366.2" stroke="rgb(140,0,220)" stroke-width="1.3" fill="none" stroke-linecap="round" stroke-linejoin="round"/>
<path d="M471.1,368.4L467.6,368.4M472.7,370.9L467.6,368.4L472.7,365.9" stroke="rgb(140,0,220)" stroke-width="1.3" fill="none" stroke-linecap="round" stroke-linejoin="round"/>
<path d="M481.0,368.4L477.5,368.4M482.5,370.9L477.5,368.4L482.5,365.9" stroke="rgb(140,0,220)" stroke-width="1.3" fill="none" stroke-linecap="round" stroke-linejoin="round"/>
<path d="M490.9,368.4L489.9,371.4M493.8,367.4L489.9,371.4L489.1,365.8" stroke="rgb(140,0,220)" stroke-width="1.3" fill="none" stroke-linecap="round" stroke-linejoin="round"/>
<path d="M500.7,368.4L503.2,369.4M499.5,365.3L503.2,369.4L497.6,369.8" stroke="rgb(140,0,220)" stroke-width="1.3" fill="none" stroke-linecap="round" stroke-linejoin="round"/>
<path d="M510.6,368.4L513.6,368.9M509.0,365.7L513.6,368.9L508.2,370.5" stroke="rgb(140,0,220)" stroke-width="1.3" fill="none" stroke-linecap="round" stroke-linejoin="round"/>
<path d="M520.5,368.4L517.5,368.4M522.5,370.9L517.5,368.4L522.5,365.9" stroke="rgb(140,0,220)" stroke-width="1.3" fill="none" stroke-linecap="round" stroke-linejoin="round"/>
<path d="M530.3,368.4L533.3,365.9M527.9,367.2L533.3,365.9L531.0,371.0" stroke="rgb(140,0,220)" stroke-width="1.3" fill="none" stroke-linecap="round" stroke-linejoin="round"/>
<path d="M540.2,368.4L541.0,360.4M538.0,365.2L541.0,360.4L542.9,365.7" stroke="rgb(30,60,255)" stroke-width="1.3" fill="none" stroke-linecap="round" stroke-linejoin="round"/>
<path d="M550.0,368.4L548.0,369.9M553.5,368.8L548.0,369.9L550.6,364.9" stroke="rgb(140,0,220)" stroke-width="1.3" fill="none" stroke-linecap="round" stroke-linejoin="round"/>
<path d="M559.9,368.4L555.9,367.9M560.6,371.0L555.9,367.9L561.2,366.1" stroke="rgb(140,0,220)" stroke-width="1.3" fill="none" stroke-linecap="round" stroke-linejoin="round"/>
<path d="M569.8,368.4L565.2,367.9M570.0,370.9L565.2,367.9L570.5,366.0" stroke="rgb(140,0,220)" stroke-width="1.3" fill="none" stroke-linecap="round" stroke-linejoin="round"/>
<path d="M579.6,368.4L571.6,369.2M576.9,371.1L571.6,369.2L576.4,366.3" stroke="rgb(30,60,255)" stroke-width="1.3" fill="none" stroke-linecap="round" stroke-linejoin="round"/>
<path d="M589.5,368.4L581.0,367.6M585.8,370.5L581.0,367.6L586.2,365.6" stroke="rgb(30,60,255)" stroke-width="1.3" fill="none" stroke-linecap="round" stroke-linejoin="round"/>
<path d="M599.3,368.4L591.3,368.4M596.4,370.9L591.3,368.4L596.4,365.9" stroke="rgb(30,60,255)" stroke-width="1.3" fill="none" stroke-linecap="round" stroke-linejoin="round"/>
<path d="M609.2,368.4L601.2,369.9M606.6,371.4L601.2,369.9L605.7,366.6" stroke="rgb(30,60,255)" stroke-width="1.3" fill="none" stroke-linecap="round" stroke-linejoin="round"/>
<path d="M619.0,368.4L610.5,368.9M615.7,371.1L610.5,368.9L615.4,366.2" stroke="rgb(30,60,255)" stroke-width="1.3" fill="none" stroke-linecap="round" stroke-linejoin="round"/>
<path d="M628.9,368.4L620.4,369.4M625.7,371.2L620.4,369.4L625.1,366.4" stroke="rgb(30,60,255)" stroke-width="1.3" fill="none" stroke-linecap="round" stroke-linejoin="round"/>
<path d="M638.8,368.4L629.8,369.9M635.1,371.5L629.8,369.9L634.3,366.7" stroke="rgb(30,60,255)" stroke-width="1.3" fill="none" stroke-linecap="round" stroke-linejoin="round"/>
<path d="M648.6,368.4L642.9,376.6M647.8,373.9L642.9,376.6L643.8,371.1" stroke="rgb(30,60,255)" stroke-width="1.3" fill="none" stroke-linecap="round" stroke-linejoin="round"/>
<path d="M658.5,368.4L649.0,369.9M654.3,371.5L649.0,369.9L653.6,366.7" stroke="rgb(30,60,255)" stroke-width="1.3" fill="none" stroke-linecap="round" stroke-linejoin="round"/>
<path d="M668.3,368.4L661.6,362.4M663.8,367.6L661.6,362.4L667.0,363.9" stroke="rgb(140,0,220)" stroke-width="1.3" fill="none" stroke-linecap="round" stroke-linejoin="round"/>
<path d="M678.2,368.4L676.6,373.6M680.4,369.5L676.6,373.6L675.7,368.1" stroke="rgb(140,0,220)" stroke-width="1.3" fill="none" stroke-linecap="round" stroke-linejoin="round"/>
<path d="M688.1,368.4L679.1,369.6M684.4,371.4L679.1,369.6L683.7,366.5" stroke="rgb(140,0,220)" stroke-width="1.3" fill="none" stroke-linecap="round" stroke-linejoin="round"/>
<path d="M697.9,368.4L688.6,366.2M693.0,369.7L688.6,366.2L694.1,365.0" stroke="rgb(140,0,220)" stroke-width="1.3" fill="none" stroke-linecap="round" stroke-linejoin="round"/>
<path d="M707.8,368.4L702.1,372.1M707.6,371.4L702.1,372.1L704.9,367.3" stroke="rgb(140,0,220)" stroke-width="1.3" fill="none" stroke-linecap="round" stroke-linejoin="round"/>
<path d="M717.6,368.4L707.9,364.7M711.8,368.8L707.9,364.7L713.5,364.2" stroke="rgb(140,0,220)" stroke-width="1.3" fill="none" stroke-linecap="round" stroke-linejoin="round"/>
<path d="M727.5,368.4L719.3,363.9M722.5,368.5L719.3,363.9L724.9,364.2" stroke="rgb(140,0,220)" stroke-width="1.3" fill="none" stroke-linecap="round" stroke-linejoin="round"/>
<path d="M737.4,368.4L732.9,363.2M734.3,368.6L732.9,363.2L738.0,365.4" stroke="rgb(140,0,220)" stroke-width="1.3" fill="none" stroke-linecap="round" stroke-linejoin="round"/>
<path d="M747.2,368.4L739.3,361.2M741.4,366.4L739.3,361.2L744.7,362.8" stroke="rgb(30,60,255)" stroke-width="1.3" fill="none" stroke-linecap="round" stroke-linejoin="round"/>
<path d="M757.1,368.4L746.5,360.6M749.1,365.6L746.5,360.6L752.0,361.6" stroke="rgb(30,60,255)" stroke-width="1.3" fill="none" stroke-linecap="round" stroke-linejoin="round"/>
<path d="M766.9,368.4L746.5,369.6M751.7,371.8L746.5,369.6L751.4,366.9" stroke="rgb(0,200,200)" stroke-width="1.3" fill="none" stroke-linecap="round" stroke-linejoin="round"/>
<path d="M776.8,368.4L744.6,384.0M750.2,384.0L744.6,384.0L748.1,379.6" stroke="rgb(160,230,50)" stroke-width="1.3" fill="none" stroke-linecap="round" stroke-linejoin="round"/>
<path d="M786.7,368.4L758.6,376.2M764.1,377.2L758.6,376.2L762.8,372.5" stroke="rgb(0,210,140)" stroke-width="1.3" fill="none" stroke-linecap="round" stroke-linejoin="round"/>
<path d="M796.5,368.4L775.3,377.4M780.9,377.7L775.3,377.4L779.0,373.2" stroke="rgb(0,200,200)" stroke-width="1.3" fill="none" stroke-linecap="round" stroke-linejoin="round"/>
<path d="M806.4,368.4L787.9,388.8M793.1,386.7L787.9,388.8L789.5,383.4" stroke="rgb(0,220,0)" stroke-width="1.3" fill="none" stroke-linecap="round" stroke-linejoin="round"/>
<path d="M816.2,368.4L796.4,389.4M801.6,387.4L796.4,389.4L798.0,384.1" stroke="rgb(0,220,0)" stroke-width="1.3" fill="none" stroke-linecap="round" stroke-linejoin="round"/>
<path d="M826.1,368.4L812.5,383.4M817.7,381.3L812.5,383.4L814.1,378.0" stroke="rgb(0,200,200)" stroke-width="1.3" fill="none" stroke-linecap="round" stroke-linejoin="round"/>
<path d="M836.0,368.4L817.4,382.8M822.9,381.7L817.4,382.8L819.8,377.8" stroke="rgb(0,210,140)" stroke-width="1.3" fill="none" stroke-linecap="round" stroke-linejoin="round"/>
<path d="M845.8,368.4L821.8,380.9M827.4,380.8L821.8,380.9L825.2,376.4" stroke="rgb(0,210,140)" stroke-width="1.3" fill="none" stroke-linecap="round" stroke-linejoin="round"/>
<path d="M855.7,368.4L836.7,377.9M842.3,377.8L836.7,377.9L840.1,373.5" stroke="rgb(0,210,140)" stroke-width="1.3" fill="none" stroke-linecap="round" stroke-linejoin="round"/>
<path d="M865.5,368.4L847.9,377.4M853.5,377.3L847.9,377.4L851.3,372.9" stroke="rgb(0,200,200)" stroke-width="1.3" fill="none" stroke-linecap="round" stroke-linejoin="round"/>
<path d="M875.4,368.4L860.0,377.4M865.6,377.0L860.0,377.4L863.1,372.7" stroke="rgb(0,160,255)" stroke-width="1.3" fill="none" stroke-linecap="round" stroke-linejoin="round"/>
<path d="M885.3,368.4L871.3,376.6M876.9,376.2L871.3,376.6L874.4,371.9" stroke="rgb(0,160,255)" stroke-width="1.3" fill="none" stroke-linecap="round" stroke-linejoin="round"/>
<path d="M895.1,368.4L882.7,376.6M888.3,375.9L882.7,376.6L885.6,371.8" stroke="rgb(0,160,255)" stroke-width="1.3" fill="none" stroke-linecap="round" stroke-linejoin="round"/>
<path d="M905.0,368.4L893.6,376.2M899.1,375.4L893.6,376.2L896.4,371.3" stroke="rgb(0,160,255)" stroke-width="1.3" fill="none" stroke-linecap="round" stroke-linejoin="round"/>
<path d="M914.8,368.4L905.0,376.8M910.5,375.4L905.0,376.8L907.3,371.7" stroke="rgb(0,160,255)" stroke-width="1.3" fill="none" stroke-linecap="round" stroke-linejoin="round"/>
<path d="M924.7,368.4L915.8,376.2M921.2,374.7L915.8,376.2L918.0,371.0" stroke="rgb(30,60,255)" stroke-width="1.3" fill="none" stroke-linecap="round" stroke-linejoin="round"/>
<path d="M934.6,368.4L927.2,375.6M932.5,373.8L927.2,375.6L929.1,370.3" stroke="rgb(30,60,255)" stroke-width="1.3" fill="none" stroke-linecap="round" stroke-linejoin="round"/>
<path d="M944.4,368.4L938.6,375.4M943.7,373.1L938.6,375.4L940.0,370.0" stroke="rgb(30,60,255)" stroke-width="1.3" fill="none" stroke-linecap="round" stroke-linejoin="round"/>
<path d="M954.3,368.4L948.8,374.2M954.0,372.2L948.8,374.2L950.5,368.9" stroke="rgb(140,0,220)" stroke-width="1.3" fill="none" stroke-linecap="round" stroke-linejoin="round"/>
<polyline points="204.9,357.5 214.8,358.3 224.7,361.0 234.5,365.5 244.4,365.2 254.2,356.5 264.1,352.0 273.9,349.0 283.8,354.7 293.7,355.0 303.5,356.8 313.4,355.3 323.2,356.2 333.1,365.2 343.0,387.0 352.8,408.2 362.7,417.0 372.5,418.7 382.4,423.2 392.3,426.2 402.1,429.2 412.0,433.0 421.9,429.2 431.7,429.7 441.6,434.2 451.4,431.5 461.3,429.2 471.1,427.0 481.0,429.0 490.9,430.7 500.7,432.2 510.6,427.4 520.5,429.5 530.3,424.7 540.2,418.4 550.0,434.2 559.9,425.5 569.8,424.3 579.6,418.4 589.5,417.7 599.3,418.0 609.2,415.0 619.0,414.0 628.9,414.5 638.8,415.2 648.6,415.7 658.5,418.7 668.3,419.5 678.2,422.2 688.1,420.2 697.9,419.5 707.8,422.5 717.6,420.0 727.5,419.8 737.4,421.0 747.2,415.7 757.1,411.4 766.9,399.6 776.8,372.0 786.7,386.4 796.5,394.8 806.4,380.4 816.2,378.6 826.1,396.0 836.0,391.2 845.8,391.2 855.7,397.2 865.5,400.2 875.4,402.6 885.3,405.6 895.1,407.6 905.0,409.4 914.8,411.0 924.7,412.2 934.6,414.6 944.4,417.6 954.3,420.0" fill="none" stroke="#000" stroke-width="1.5" stroke-linejoin="round" />
<polyline points="204.9,323.2 214.8,322.7 224.7,323.5 234.5,329.5 244.4,334.3 254.2,314.8 264.1,309.7 273.9,301.3 283.8,303.2 293.7,311.5 303.5,310.3 313.4,306.7 323.2,307.7 333.1,311.2 343.0,329.5 352.8,366.5 362.7,403.7 372.5,421.7 382.4,430.7 392.3,426.0 402.1,423.0 412.0,419.2 421.9,426.0 431.7,424.4 441.6,426.7 451.4,429.0 461.3,431.8 471.1,428.2 481.0,428.8 490.9,428.5 500.7,424.3 510.6,418.0 520.5,414.7 530.3,415.7 540.2,407.5 550.0,407.2 559.9,404.2 569.8,394.7 579.6,380.2 589.5,396.7 599.3,415.7 609.2,413.8 619.0,412.7 628.9,415.3 638.8,417.2 648.6,417.2 658.5,409.0 668.3,408.7 678.2,411.7 688.1,419.5 697.9,413.8 707.8,416.2 717.6,412.3 727.5,408.2 737.4,408.7 747.2,403.0 757.1,401.5 766.9,394.2 776.8,324.0 786.7,321.6 796.5,354.6 806.4,345.6 816.2,339.0 826.1,342.6 836.0,366.0 845.8,361.8 855.7,358.8 865.5,378.0 875.4,385.8 885.3,397.2 895.1,402.6 905.0,409.2 914.8,411.6 924.7,411.4 934.6,413.4 944.4,417.0 954.3,416.4" fill="none" stroke="rgb(250,60,60)" stroke-width="1.1" stroke-linejoin="round" />
<path d="M198.9,323.2H210.9M204.9,317.7V328.7M208.8,322.7H220.8M214.8,317.2V328.2M218.7,323.5H230.7M224.7,318.0V329.0M228.5,329.5H240.5M234.5,324.0V335.0M238.4,334.3H250.4M244.4,328.8V339.8M248.2,314.8H260.2M254.2,309.3V320.3M258.1,309.7H270.1M264.1,304.2V315.2M267.9,301.3H279.9M273.9,295.8V306.8M277.8,303.2H289.8M283.8,297.7V308.7M287.7,311.5H299.7M293.7,306.0V317.0M297.5,310.3H309.5M303.5,304.8V315.8M307.4,306.7H319.4M313.4,301.2V312.2M317.2,307.7H329.2M323.2,302.2V313.2M327.1,311.2H339.1M333.1,305.7V316.7M337.0,329.5H349.0M343.0,324.0V335.0M346.8,366.5H358.8M352.8,361.0V372.0M356.7,403.7H368.7M362.7,398.2V409.2M366.5,421.7H378.5M372.5,416.2V427.2M376.4,430.7H388.4M382.4,425.2V436.2M386.3,426.0H398.3M392.3,420.5V431.5M396.1,423.0H408.1M402.1,417.5V428.5M406.0,419.2H418.0M412.0,413.7V424.7M415.9,426.0H427.9M421.9,420.5V431.5M425.7,424.4H437.7M431.7,418.9V429.9M435.6,426.7H447.6M441.6,421.2V432.2M445.4,429.0H457.4M451.4,423.5V434.5M455.3,431.8H467.3M461.3,426.3V437.3M465.1,428.2H477.1M471.1,422.7V433.7M475.0,428.8H487.0M481.0,423.3V434.3M484.9,428.5H496.9M490.9,423.0V434.0M494.7,424.3H506.7M500.7,418.8V429.8M504.6,418.0H516.6M510.6,412.5V423.5M514.5,414.7H526.5M520.5,409.2V420.2M524.3,415.7H536.3M530.3,410.2V421.2M534.2,407.5H546.2M540.2,402.0V413.0M544.0,407.2H556.0M550.0,401.7V412.7M553.9,404.2H565.9M559.9,398.7V409.7M563.8,394.7H575.8M569.8,389.2V400.2M573.6,380.2H585.6M579.6,374.7V385.7M583.5,396.7H595.5M589.5,391.2V402.2M593.3,415.7H605.3M599.3,410.2V421.2M603.2,413.8H615.2M609.2,408.3V419.3M613.0,412.7H625.0M619.0,407.2V418.2M622.9,415.3H634.9M628.9,409.8V420.8M632.8,417.2H644.8M638.8,411.7V422.7M642.6,417.2H654.6M648.6,411.7V422.7M652.5,409.0H664.5M658.5,403.5V414.5M662.3,408.7H674.3M668.3,403.2V414.2M672.2,411.7H684.2M678.2,406.2V417.2M682.1,419.5H694.1M688.1,414.0V425.0M691.9,413.8H703.9M697.9,408.3V419.3M701.8,416.2H713.8M707.8,410.7V421.7M711.6,412.3H723.6M717.6,406.8V417.8M721.5,408.2H733.5M727.5,402.7V413.7M731.4,408.7H743.4M737.4,403.2V414.2M741.2,403.0H753.2M747.2,397.5V408.5M751.1,401.5H763.1M757.1,396.0V407.0M760.9,394.2H772.9M766.9,388.7V399.7M770.8,324.0H782.8M776.8,318.5V329.5M780.7,321.6H792.7M786.7,316.1V327.1M790.5,354.6H802.5M796.5,349.1V360.1M800.4,345.6H812.4M806.4,340.1V351.1M810.2,339.0H822.2M816.2,333.5V344.5M820.1,342.6H832.1M826.1,337.1V348.1M830.0,366.0H842.0M836.0,360.5V371.5M839.8,361.8H851.8M845.8,356.3V367.3M849.7,358.8H861.7M855.7,353.3V364.3M859.5,378.0H871.5M865.5,372.5V383.5M869.4,385.8H881.4M875.4,380.3V391.3M879.3,397.2H891.3M885.3,391.7V402.7M889.1,402.6H901.1M895.1,397.1V408.1M899.0,409.2H911.0M905.0,403.7V414.7M908.8,411.6H920.8M914.8,406.1V417.1M918.7,411.4H930.7M924.7,405.9V416.9M928.6,413.4H940.6M934.6,407.9V418.9M938.4,417.0H950.4M944.4,411.5V422.5M948.3,416.4H960.3M954.3,410.9V421.9" stroke="#fff" stroke-width="2.8"/>
<path d="M200.2,323.2H209.7M204.9,318.9V327.5M210.0,322.7H219.5M214.8,318.4V327.0M219.9,323.5H229.4M224.7,319.2V327.8M229.8,329.5H239.3M234.5,325.2V333.8M239.6,334.3H249.1M244.4,330.0V338.6M249.5,314.8H259.0M254.2,310.5V319.1M259.3,309.7H268.8M264.1,305.4V314.0M269.2,301.3H278.7M273.9,297.0V305.6M279.1,303.2H288.6M283.8,298.9V307.5M288.9,311.5H298.4M293.7,307.2V315.8M298.8,310.3H308.3M303.5,306.0V314.6M308.6,306.7H318.1M313.4,302.4V311.0M318.5,307.7H328.0M323.2,303.4V312.0M328.4,311.2H337.9M333.1,306.9V315.5M338.2,329.5H347.7M343.0,325.2V333.8M348.1,366.5H357.6M352.8,362.2V370.8M357.9,403.7H367.4M362.7,399.4V408.0M367.8,421.7H377.3M372.5,417.4V426.0M377.7,430.7H387.2M382.4,426.4V435.0M387.5,426.0H397.0M392.3,421.7V430.3M397.4,423.0H406.9M402.1,418.7V427.3M407.2,419.2H416.7M412.0,414.9V423.5M417.1,426.0H426.6M421.9,421.7V430.3M427.0,424.4H436.5M431.7,420.1V428.7M436.8,426.7H446.3M441.6,422.4V431.0M446.7,429.0H456.2M451.4,424.7V433.3M456.5,431.8H466.0M461.3,427.5V436.1M466.4,428.2H475.9M471.1,423.9V432.5M476.3,428.8H485.8M481.0,424.5V433.1M486.1,428.5H495.6M490.9,424.2V432.8M496.0,424.3H505.5M500.7,420.0V428.6M505.8,418.0H515.3M510.6,413.7V422.3M515.7,414.7H525.2M520.5,410.4V419.0M525.6,415.7H535.1M530.3,411.4V420.0M535.4,407.5H544.9M540.2,403.2V411.8M545.3,407.2H554.8M550.0,402.9V411.5M555.1,404.2H564.6M559.9,399.9V408.5M565.0,394.7H574.5M569.8,390.4V399.0M574.9,380.2H584.4M579.6,375.9V384.5M584.7,396.7H594.2M589.5,392.4V401.0M594.6,415.7H604.1M599.3,411.4V420.0M604.4,413.8H613.9M609.2,409.5V418.1M614.3,412.7H623.8M619.0,408.4V417.0M624.2,415.3H633.7M628.9,411.0V419.6M634.0,417.2H643.5M638.8,412.9V421.5M643.9,417.2H653.4M648.6,412.9V421.5M653.7,409.0H663.2M658.5,404.7V413.3M663.6,408.7H673.1M668.3,404.4V413.0M673.5,411.7H683.0M678.2,407.4V416.0M683.3,419.5H692.8M688.1,415.2V423.8M693.2,413.8H702.7M697.9,409.5V418.1M703.0,416.2H712.5M707.8,411.9V420.5M712.9,412.3H722.4M717.6,408.0V416.6M722.8,408.2H732.3M727.5,403.9V412.5M732.6,408.7H742.1M737.4,404.4V413.0M742.5,403.0H752.0M747.2,398.7V407.3M752.3,401.5H761.8M757.1,397.2V405.8M762.2,394.2H771.7M766.9,389.9V398.5M772.1,324.0H781.6M776.8,319.7V328.3M781.9,321.6H791.4M786.7,317.3V325.9M791.8,354.6H801.3M796.5,350.3V358.9M801.6,345.6H811.1M806.4,341.3V349.9M811.5,339.0H821.0M816.2,334.7V343.3M821.4,342.6H830.9M826.1,338.3V346.9M831.2,366.0H840.7M836.0,361.7V370.3M841.1,361.8H850.6M845.8,357.5V366.1M850.9,358.8H860.4M855.7,354.5V363.1M860.8,378.0H870.3M865.5,373.7V382.3M870.7,385.8H880.2M875.4,381.5V390.1M880.5,397.2H890.0M885.3,392.9V401.5M890.4,402.6H899.9M895.1,398.3V406.9M900.2,409.2H909.7M905.0,404.9V413.5M910.1,411.6H919.6M914.8,407.3V415.9M920.0,411.4H929.5M924.7,407.1V415.7M929.8,413.4H939.3M934.6,409.1V417.7M939.7,417.0H949.2M944.4,412.7V421.3M949.5,416.4H959.0M954.3,412.1V420.7" stroke="rgb(250,60,60)" stroke-width="1.7"/>
</g>
<path d="M151.48,152.64 L152.50,152.19 L154.04,150.82 L154.04,160.38M163.27,150.82 L161.73,151.28 L160.70,152.64 L160.19,154.92 L160.19,156.28 L160.70,158.56 L161.73,159.92 L163.27,160.38 L164.29,160.38 L165.83,159.92 L166.85,158.56 L167.37,156.28 L167.37,154.92 L166.85,152.64 L165.83,151.28 L164.29,150.82 L163.27,150.82M170.95,153.10 L170.95,152.64 L171.47,151.73 L171.98,151.28 L173.00,150.82 L175.05,150.82 L176.08,151.28 L176.59,151.73 L177.10,152.64 L177.10,153.55 L176.59,154.46 L175.57,155.83 L170.44,160.38 L177.62,160.38M185.82,150.82 L180.69,157.19 L188.38,157.19M185.82,150.82 L185.82,160.38" fill="none" stroke="#000" stroke-width="1.6" stroke-linecap="round" stroke-linejoin="round"/>
<path d="M151.99,191.14 L153.02,190.69 L154.55,189.32 L154.55,198.88M163.78,189.32 L162.24,189.78 L161.22,191.14 L160.70,193.42 L160.70,194.78 L161.22,197.06 L162.24,198.42 L163.78,198.88 L164.81,198.88 L166.34,198.42 L167.37,197.06 L167.88,194.78 L167.88,193.42 L167.37,191.14 L166.34,189.78 L164.81,189.32 L163.78,189.32M172.49,191.14 L173.52,190.69 L175.06,189.32 L175.06,198.88M187.87,190.69 L187.35,189.78 L185.82,189.32 L184.79,189.32 L183.25,189.78 L182.23,191.14 L181.72,193.42 L181.72,195.69 L182.23,197.51 L183.25,198.42 L184.79,198.88 L185.31,198.88 L186.84,198.42 L187.87,197.51 L188.38,196.15 L188.38,195.69 L187.87,194.33 L186.84,193.42 L185.31,192.96 L184.79,192.96 L183.25,193.42 L182.23,194.33 L181.72,195.69" fill="none" stroke="#000" stroke-width="1.6" stroke-linecap="round" stroke-linejoin="round"/>
<path d="M151.99,229.64 L153.02,229.19 L154.55,227.82 L154.55,237.38M163.78,227.82 L162.24,228.28 L161.22,229.64 L160.70,231.92 L160.70,233.28 L161.22,235.56 L162.24,236.92 L163.78,237.38 L164.81,237.38 L166.34,236.92 L167.37,235.56 L167.88,233.28 L167.88,231.92 L167.37,229.64 L166.34,228.28 L164.81,227.82 L163.78,227.82M174.03,227.82 L172.49,228.28 L171.47,229.64 L170.95,231.92 L170.95,233.28 L171.47,235.56 L172.49,236.92 L174.03,237.38 L175.06,237.38 L176.59,236.92 L177.62,235.56 L178.13,233.28 L178.13,231.92 L177.62,229.64 L176.59,228.28 L175.06,227.82 L174.03,227.82M183.77,227.82 L182.23,228.28 L181.72,229.19 L181.72,230.10 L182.23,231.01 L183.25,231.46 L185.31,231.92 L186.84,232.37 L187.87,233.28 L188.38,234.19 L188.38,235.56 L187.87,236.47 L187.35,236.92 L185.82,237.38 L183.77,237.38 L182.23,236.92 L181.72,236.47 L181.20,235.56 L181.20,234.19 L181.72,233.28 L182.74,232.37 L184.28,231.92 L186.33,231.46 L187.35,231.01 L187.87,230.10 L187.87,229.19 L187.35,228.28 L185.82,227.82 L183.77,227.82" fill="none" stroke="#000" stroke-width="1.6" stroke-linecap="round" stroke-linejoin="round"/>
<path d="M151.99,268.14 L153.02,267.69 L154.55,266.32 L154.55,275.88M163.78,266.32 L162.24,266.78 L161.22,268.14 L160.70,270.42 L160.70,271.78 L161.22,274.06 L162.24,275.42 L163.78,275.88 L164.81,275.88 L166.34,275.42 L167.37,274.06 L167.88,271.78 L167.88,270.42 L167.37,268.14 L166.34,266.78 L164.81,266.32 L163.78,266.32M174.03,266.32 L172.49,266.78 L171.47,268.14 L170.95,270.42 L170.95,271.78 L171.47,274.06 L172.49,275.42 L174.03,275.88 L175.06,275.88 L176.59,275.42 L177.62,274.06 L178.13,271.78 L178.13,270.42 L177.62,268.14 L176.59,266.78 L175.06,266.32 L174.03,266.32M184.28,266.32 L182.74,266.78 L181.72,268.14 L181.20,270.42 L181.20,271.78 L181.72,274.06 L182.74,275.42 L184.28,275.88 L185.31,275.88 L186.84,275.42 L187.87,274.06 L188.38,271.78 L188.38,270.42 L187.87,268.14 L186.84,266.78 L185.31,266.32 L184.28,266.32" fill="none" stroke="#000" stroke-width="1.6" stroke-linecap="round" stroke-linejoin="round"/>
<path d="M183.77,296.32 L182.23,296.78 L181.72,297.69 L181.72,298.60 L182.23,299.51 L183.25,299.96 L185.30,300.42 L186.84,300.87 L187.87,301.78 L188.38,302.69 L188.38,304.06 L187.87,304.97 L187.35,305.42 L185.82,305.88 L183.77,305.88 L182.23,305.42 L181.72,304.97 L181.20,304.06 L181.20,302.69 L181.72,301.78 L182.74,300.87 L184.28,300.42 L186.33,299.96 L187.35,299.51 L187.87,298.60 L187.87,297.69 L187.35,296.78 L185.82,296.32 L183.77,296.32" fill="none" stroke="#000" stroke-width="1.6" stroke-linecap="round" stroke-linejoin="round"/>
<path d="M187.87,331.29 L187.35,330.38 L185.82,329.92 L184.79,329.92 L183.25,330.38 L182.23,331.74 L181.72,334.02 L181.72,336.29 L182.23,338.11 L183.25,339.02 L184.79,339.48 L185.30,339.48 L186.84,339.02 L187.87,338.11 L188.38,336.75 L188.38,336.29 L187.87,334.93 L186.84,334.02 L185.30,333.56 L184.79,333.56 L183.25,334.02 L182.23,334.93 L181.72,336.29" fill="none" stroke="#000" stroke-width="1.6" stroke-linecap="round" stroke-linejoin="round"/>
<path d="M185.82,363.72 L180.69,370.09 L188.38,370.09M185.82,363.72 L185.82,373.28" fill="none" stroke="#000" stroke-width="1.6" stroke-linecap="round" stroke-linejoin="round"/>
<path d="M181.72,399.80 L181.72,399.34 L182.23,398.43 L182.74,397.98 L183.77,397.52 L185.82,397.52 L186.84,397.98 L187.35,398.43 L187.87,399.34 L187.87,400.25 L187.35,401.16 L186.33,402.53 L181.20,407.08 L188.38,407.08" fill="none" stroke="#000" stroke-width="1.6" stroke-linecap="round" stroke-linejoin="round"/>
<path d="M184.28,431.32 L182.74,431.78 L181.72,433.14 L181.20,435.42 L181.20,436.78 L181.72,439.06 L182.74,440.42 L184.28,440.88 L185.30,440.88 L186.84,440.42 L187.87,439.06 L188.38,436.78 L188.38,435.42 L187.87,433.14 L186.84,431.78 L185.30,431.32 L184.28,431.32" fill="none" stroke="#000" stroke-width="1.6" stroke-linecap="round" stroke-linejoin="round"/>
<path d="M172.49,444.74 L173.52,444.29 L175.05,442.92 L175.05,452.48M187.35,442.92 L182.23,442.92 L181.72,447.02 L182.23,446.56 L183.77,446.11 L185.31,446.11 L186.84,446.56 L187.87,447.47 L188.38,448.84 L188.38,449.75 L187.87,451.11 L186.84,452.02 L185.31,452.48 L183.77,452.48 L182.23,452.02 L181.72,451.57 L181.20,450.66" fill="none" stroke="#000" stroke-width="1.6" stroke-linecap="round" stroke-linejoin="round"/>
<path d="M172.49,477.64 L173.52,477.19 L175.05,475.82 L175.05,485.38M181.72,478.10 L181.72,477.64 L182.23,476.73 L182.74,476.28 L183.77,475.82 L185.82,475.82 L186.84,476.28 L187.35,476.73 L187.87,477.64 L187.87,478.55 L187.35,479.46 L186.33,480.83 L181.20,485.38 L188.38,485.38" fill="none" stroke="#000" stroke-width="1.6" stroke-linecap="round" stroke-linejoin="round"/>
<path d="M188.38,512.01 L187.87,513.37 L186.84,514.28 L185.31,514.74 L184.79,514.74 L183.25,514.28 L182.23,513.37 L181.72,512.01 L181.72,511.55 L182.23,510.19 L183.25,509.28 L184.79,508.82 L185.31,508.82 L186.84,509.28 L187.87,510.19 L188.38,512.01 L188.38,514.28 L187.87,516.56 L186.84,517.92 L185.31,518.38 L184.28,518.38 L182.74,517.92 L182.23,517.01" fill="none" stroke="#000" stroke-width="1.6" stroke-linecap="round" stroke-linejoin="round"/>
<path d="M187.87,543.19 L187.35,542.28 L185.82,541.82 L184.79,541.82 L183.25,542.28 L182.23,543.64 L181.72,545.92 L181.72,548.19 L182.23,550.01 L183.25,550.92 L184.79,551.38 L185.30,551.38 L186.84,550.92 L187.87,550.01 L188.38,548.65 L188.38,548.19 L187.87,546.83 L186.84,545.92 L185.30,545.46 L184.79,545.46 L183.25,545.92 L182.23,546.83 L181.72,548.19" fill="none" stroke="#000" stroke-width="1.6" stroke-linecap="round" stroke-linejoin="round"/>
<path d="M182.23,574.72 L187.87,574.72 L184.79,578.36 L186.33,578.36 L187.35,578.82 L187.87,579.27 L188.38,580.64 L188.38,581.55 L187.87,582.91 L186.84,583.82 L185.30,584.28 L183.77,584.28 L182.23,583.82 L181.72,583.37 L181.20,582.46" fill="none" stroke="#000" stroke-width="1.6" stroke-linecap="round" stroke-linejoin="round"/>
<path d="M162.24,610.14 L163.27,609.69 L164.80,608.32 L164.80,617.88M174.03,608.32 L172.49,608.78 L171.47,610.14 L170.95,612.42 L170.95,613.78 L171.47,616.06 L172.49,617.42 L174.03,617.88 L175.06,617.88 L176.59,617.42 L177.62,616.06 L178.13,613.78 L178.13,612.42 L177.62,610.14 L176.59,608.78 L175.06,608.32 L174.03,608.32M184.28,608.32 L182.74,608.78 L181.72,610.14 L181.20,612.42 L181.20,613.78 L181.72,616.06 L182.74,617.42 L184.28,617.88 L185.31,617.88 L186.84,617.42 L187.87,616.06 L188.38,613.78 L188.38,612.42 L187.87,610.14 L186.84,608.78 L185.31,608.32 L184.28,608.32" fill="none" stroke="#000" stroke-width="1.6" stroke-linecap="round" stroke-linejoin="round"/>
<path d="M178.13,640.52 L173.00,650.08M170.95,640.52 L178.13,640.52M187.35,640.52 L182.23,640.52 L181.72,644.62 L182.23,644.16 L183.77,643.71 L185.31,643.71 L186.84,644.16 L187.87,645.07 L188.38,646.44 L188.38,647.35 L187.87,648.71 L186.84,649.62 L185.31,650.08 L183.77,650.08 L182.23,649.62 L181.72,649.17 L181.20,648.26" fill="none" stroke="#000" stroke-width="1.6" stroke-linecap="round" stroke-linejoin="round"/>
<path d="M177.10,672.62 L171.98,672.62 L171.47,676.72 L171.98,676.26 L173.52,675.81 L175.05,675.81 L176.59,676.26 L177.62,677.17 L178.13,678.54 L178.13,679.45 L177.62,680.81 L176.59,681.72 L175.05,682.18 L173.52,682.18 L171.98,681.72 L171.47,681.27 L170.95,680.36M184.28,672.62 L182.74,673.08 L181.72,674.44 L181.20,676.72 L181.20,678.08 L181.72,680.36 L182.74,681.72 L184.28,682.18 L185.31,682.18 L186.84,681.72 L187.87,680.36 L188.38,678.08 L188.38,676.72 L187.87,674.44 L186.84,673.08 L185.31,672.62 L184.28,672.62" fill="none" stroke="#000" stroke-width="1.6" stroke-linecap="round" stroke-linejoin="round"/>
<path d="M171.47,707.00 L171.47,706.54 L171.98,705.63 L172.49,705.18 L173.52,704.72 L175.57,704.72 L176.59,705.18 L177.10,705.63 L177.62,706.54 L177.62,707.45 L177.10,708.36 L176.08,709.73 L170.95,714.28 L178.13,714.28M187.35,704.72 L182.23,704.72 L181.72,708.82 L182.23,708.36 L183.77,707.91 L185.31,707.91 L186.84,708.36 L187.87,709.27 L188.38,710.64 L188.38,711.55 L187.87,712.91 L186.84,713.82 L185.31,714.28 L183.77,714.28 L182.23,713.82 L181.72,713.37 L181.20,712.46" fill="none" stroke="#000" stroke-width="1.6" stroke-linecap="round" stroke-linejoin="round"/>
<path d="M184.28,736.92 L182.74,737.38 L181.72,738.74 L181.20,741.02 L181.20,742.38 L181.72,744.66 L182.74,746.02 L184.28,746.48 L185.30,746.48 L186.84,746.02 L187.87,744.66 L188.38,742.38 L188.38,741.02 L187.87,738.74 L186.84,737.38 L185.30,736.92 L184.28,736.92" fill="none" stroke="#000" stroke-width="1.6" stroke-linecap="round" stroke-linejoin="round"/>
<path d="M158.66,779.07 L157.12,779.53 L156.09,780.89 L155.58,783.17 L155.58,784.53 L156.09,786.81 L157.12,788.17 L158.66,788.63 L159.68,788.63 L161.22,788.17 L162.24,786.81 L162.75,784.53 L162.75,783.17 L162.24,780.89 L161.22,779.53 L159.68,779.07 L158.66,779.07M166.85,787.72 L166.34,788.17 L166.85,788.63 L167.37,788.17 L166.85,787.72M177.62,782.26 L177.10,783.62 L176.08,784.53 L174.54,784.99 L174.03,784.99 L172.49,784.53 L171.47,783.62 L170.95,782.26 L170.95,781.80 L171.47,780.44 L172.49,779.53 L174.03,779.07 L174.54,779.07 L176.08,779.53 L177.10,780.44 L177.62,782.26 L177.62,784.53 L177.10,786.81 L176.08,788.17 L174.54,788.63 L173.52,788.63 L171.98,788.17 L171.47,787.26M187.87,780.44 L187.35,779.53 L185.82,779.07 L184.79,779.07 L183.25,779.53 L182.23,780.89 L181.72,783.17 L181.72,785.44 L182.23,787.26 L183.25,788.17 L184.79,788.63 L185.31,788.63 L186.84,788.17 L187.87,787.26 L188.38,785.90 L188.38,785.44 L187.87,784.08 L186.84,783.17 L185.31,782.71 L184.79,782.71 L183.25,783.17 L182.23,784.08 L181.72,785.44" fill="none" stroke="#000" stroke-width="1.6" stroke-linecap="round" stroke-linejoin="round"/>
<path d="M158.66,810.32 L157.12,810.78 L156.09,812.14 L155.58,814.42 L155.58,815.78 L156.09,818.06 L157.12,819.42 L158.66,819.88 L159.68,819.88 L161.22,819.42 L162.24,818.06 L162.75,815.78 L162.75,814.42 L162.24,812.14 L161.22,810.78 L159.68,810.32 L158.66,810.32M166.85,818.97 L166.34,819.42 L166.85,819.88 L167.37,819.42 L166.85,818.97M178.13,810.32 L173.00,819.88M170.95,810.32 L178.13,810.32M181.72,812.60 L181.72,812.14 L182.23,811.23 L182.74,810.78 L183.77,810.32 L185.82,810.32 L186.84,810.78 L187.35,811.23 L187.87,812.14 L187.87,813.05 L187.35,813.96 L186.33,815.33 L181.20,819.88 L188.38,819.88" fill="none" stroke="#000" stroke-width="1.6" stroke-linecap="round" stroke-linejoin="round"/>
<path d="M158.66,841.57 L157.12,842.03 L156.09,843.39 L155.58,845.67 L155.58,847.03 L156.09,849.31 L157.12,850.67 L158.66,851.13 L159.68,851.13 L161.22,850.67 L162.24,849.31 L162.75,847.03 L162.75,845.67 L162.24,843.39 L161.22,842.03 L159.68,841.57 L158.66,841.57M166.85,850.22 L166.34,850.67 L166.85,851.13 L167.37,850.67 L166.85,850.22M176.08,841.57 L170.95,847.94 L178.64,847.94M176.08,841.57 L176.08,851.13M183.77,841.57 L182.23,842.03 L181.72,842.94 L181.72,843.85 L182.23,844.76 L183.25,845.21 L185.31,845.67 L186.84,846.12 L187.87,847.03 L188.38,847.94 L188.38,849.31 L187.87,850.22 L187.35,850.67 L185.82,851.13 L183.77,851.13 L182.23,850.67 L181.72,850.22 L181.20,849.31 L181.20,847.94 L181.72,847.03 L182.74,846.12 L184.28,845.67 L186.33,845.21 L187.35,844.76 L187.87,843.85 L187.87,842.94 L187.35,842.03 L185.82,841.57 L183.77,841.57" fill="none" stroke="#000" stroke-width="1.6" stroke-linecap="round" stroke-linejoin="round"/>
<path d="M158.14,872.82 L156.60,873.28 L155.58,874.64 L155.07,876.92 L155.07,878.28 L155.58,880.56 L156.60,881.92 L158.14,882.38 L159.17,882.38 L160.71,881.92 L161.73,880.56 L162.24,878.28 L162.24,876.92 L161.73,874.64 L160.71,873.28 L159.17,872.82 L158.14,872.82M166.34,881.47 L165.83,881.92 L166.34,882.38 L166.85,881.92 L166.34,881.47M170.96,875.10 L170.96,874.64 L171.47,873.73 L171.98,873.28 L173.00,872.82 L175.06,872.82 L176.08,873.28 L176.59,873.73 L177.11,874.64 L177.11,875.55 L176.59,876.46 L175.57,877.83 L170.44,882.38 L177.62,882.38M185.82,872.82 L180.69,879.19 L188.38,879.19M185.82,872.82 L185.82,882.38" fill="none" stroke="#000" stroke-width="1.6" stroke-linecap="round" stroke-linejoin="round"/>
<path d="M184.28,904.07 L182.74,904.53 L181.72,905.89 L181.20,908.17 L181.20,909.53 L181.72,911.81 L182.74,913.17 L184.28,913.63 L185.30,913.63 L186.84,913.17 L187.87,911.81 L188.38,909.53 L188.38,908.17 L187.87,905.89 L186.84,904.53 L185.30,904.07 L184.28,904.07" fill="none" stroke="#000" stroke-width="1.6" stroke-linecap="round" stroke-linejoin="round"/>
<path d="M290.09,82.32 L290.09,81.77 L290.73,80.67 L291.38,80.12 L292.68,79.57 L295.27,79.57 L296.56,80.12 L297.21,80.67 L297.85,81.77 L297.85,82.87 L297.21,83.97 L295.91,85.63 L289.44,91.13 L298.50,91.13M306.27,79.57 L304.33,80.12 L303.03,81.77 L302.39,84.52 L302.39,86.18 L303.03,88.93 L304.33,90.58 L306.27,91.13 L307.56,91.13 L309.51,90.58 L310.80,88.93 L311.45,86.18 L311.45,84.52 L310.80,81.77 L309.51,80.12 L307.56,79.57 L306.27,79.57M315.98,82.32 L315.98,81.77 L316.63,80.67 L317.27,80.12 L318.57,79.57 L321.16,79.57 L322.45,80.12 L323.10,80.67 L323.75,81.77 L323.75,82.87 L323.10,83.97 L321.80,85.63 L315.33,91.13 L324.39,91.13M336.69,81.22 L336.05,80.12 L334.10,79.57 L332.81,79.57 L330.87,80.12 L329.57,81.77 L328.93,84.52 L328.93,87.28 L329.57,89.48 L330.87,90.58 L332.81,91.13 L333.46,91.13 L335.40,90.58 L336.69,89.48 L337.34,87.83 L337.34,87.28 L336.69,85.63 L335.40,84.52 L333.46,83.97 L332.81,83.97 L330.87,84.52 L329.57,85.63 L328.93,87.28" fill="none" stroke="#111" stroke-width="1.05" stroke-linecap="round" stroke-linejoin="round"/>
<path d="M290.09,100.72 L290.09,100.17 L290.73,99.07 L291.38,98.52 L292.68,97.97 L295.27,97.97 L296.56,98.52 L297.21,99.07 L297.85,100.17 L297.85,101.27 L297.21,102.37 L295.91,104.03 L289.44,109.53 L298.50,109.53M306.27,97.97 L301.09,109.53M306.27,97.97 L311.45,109.53M303.03,105.68 L309.51,105.68M314.68,97.97 L314.68,109.53M314.68,97.97 L320.51,97.97 L322.45,98.52 L323.10,99.07 L323.75,100.17 L323.75,101.82 L323.10,102.92 L322.45,103.47 L320.51,104.03 L314.68,104.03M328.28,97.97 L328.28,109.53M328.28,97.97 L334.10,97.97 L336.05,98.52 L336.69,99.07 L337.34,100.17 L337.34,101.27 L336.69,102.37 L336.05,102.92 L334.10,103.47 L328.28,103.47M332.81,103.47 L337.34,109.53" fill="none" stroke="#111" stroke-width="1.05" stroke-linecap="round" stroke-linejoin="round"/>
<path d="M296.88,118.17 L298.18,117.62 L300.12,115.97 L300.12,127.53M308.54,118.72 L308.54,118.17 L309.18,117.07 L309.83,116.52 L311.12,115.97 L313.71,115.97 L315.01,116.52 L315.66,117.07 L316.30,118.17 L316.30,119.27 L315.66,120.37 L314.36,122.03 L307.89,127.53 L316.95,127.53M329.90,115.97 L320.83,127.53M320.83,115.97 L329.90,115.97M320.83,127.53 L329.90,127.53" fill="none" stroke="#111" stroke-width="1.05" stroke-linecap="round" stroke-linejoin="round"/>
<path d="M409.05,97.97 L416.17,97.97 L412.29,102.37 L414.23,102.37 L415.53,102.92 L416.17,103.47 L416.82,105.13 L416.82,106.23 L416.17,107.88 L414.88,108.98 L412.94,109.53 L411.00,109.53 L409.05,108.98 L408.41,108.43 L407.76,107.33M424.59,97.97 L419.41,109.53M424.59,97.97 L429.77,109.53M421.35,105.68 L427.83,105.68M433.00,97.97 L433.00,109.53M433.00,97.97 L438.83,97.97 L440.77,98.52 L441.42,99.07 L442.07,100.17 L442.07,101.82 L441.42,102.92 L440.77,103.47 L438.83,104.03 L433.00,104.03M446.60,97.97 L446.60,109.53M446.60,97.97 L452.42,97.97 L454.37,98.52 L455.01,99.07 L455.66,100.17 L455.66,101.27 L455.01,102.37 L454.37,102.92 L452.42,103.47 L446.60,103.47M451.13,103.47 L455.66,109.53" fill="none" stroke="#111" stroke-width="1.05" stroke-linecap="round" stroke-linejoin="round"/>
<path d="M418.12,115.97 L416.17,116.52 L414.88,118.17 L414.23,120.92 L414.23,122.58 L414.88,125.33 L416.17,126.98 L418.12,127.53 L419.41,127.53 L421.35,126.98 L422.65,125.33 L423.30,122.58 L423.30,120.92 L422.65,118.17 L421.35,116.52 L419.41,115.97 L418.12,115.97M431.06,115.97 L429.12,116.52 L427.83,118.17 L427.18,120.92 L427.18,122.58 L427.83,125.33 L429.12,126.98 L431.06,127.53 L432.36,127.53 L434.30,126.98 L435.59,125.33 L436.24,122.58 L436.24,120.92 L435.59,118.17 L434.30,116.52 L432.36,115.97 L431.06,115.97M449.19,115.97 L440.12,127.53M440.12,115.97 L449.19,115.97M440.12,127.53 L449.19,127.53" fill="none" stroke="#111" stroke-width="1.05" stroke-linecap="round" stroke-linejoin="round"/>
<path d="M533.52,118.17 L534.82,117.62 L536.76,115.97 L536.76,127.53M545.18,118.72 L545.18,118.17 L545.82,117.07 L546.47,116.52 L547.76,115.97 L550.35,115.97 L551.65,116.52 L552.30,117.07 L552.94,118.17 L552.94,119.27 L552.30,120.37 L551.00,122.03 L544.53,127.53 L553.59,127.53M566.54,115.97 L557.47,127.53M557.47,115.97 L566.54,115.97M557.47,127.53 L566.54,127.53" fill="none" stroke="#111" stroke-width="1.05" stroke-linecap="round" stroke-linejoin="round"/>
<path d="M650.87,97.97 L644.40,105.68 L654.11,105.68M650.87,97.97 L650.87,109.53M661.23,97.97 L656.05,109.53M661.23,97.97 L666.41,109.53M657.99,105.68 L664.47,105.68M669.64,97.97 L669.64,109.53M669.64,97.97 L675.47,97.97 L677.41,98.52 L678.06,99.07 L678.71,100.17 L678.71,101.82 L678.06,102.92 L677.41,103.47 L675.47,104.03 L669.64,104.03M683.24,97.97 L683.24,109.53M683.24,97.97 L689.06,97.97 L691.01,98.52 L691.65,99.07 L692.30,100.17 L692.30,101.27 L691.65,102.37 L691.01,102.92 L689.06,103.47 L683.24,103.47M687.77,103.47 L692.30,109.53" fill="none" stroke="#111" stroke-width="1.05" stroke-linecap="round" stroke-linejoin="round"/>
<path d="M654.76,115.97 L652.81,116.52 L651.52,118.17 L650.87,120.92 L650.87,122.58 L651.52,125.33 L652.81,126.98 L654.76,127.53 L656.05,127.53 L657.99,126.98 L659.29,125.33 L659.94,122.58 L659.94,120.92 L659.29,118.17 L657.99,116.52 L656.05,115.97 L654.76,115.97M667.70,115.97 L665.76,116.52 L664.47,118.17 L663.82,120.92 L663.82,122.58 L664.47,125.33 L665.76,126.98 L667.70,127.53 L669.00,127.53 L670.94,126.98 L672.23,125.33 L672.88,122.58 L672.88,120.92 L672.23,118.17 L670.94,116.52 L669.00,115.97 L667.70,115.97M685.83,115.97 L676.76,127.53M676.76,115.97 L685.83,115.97M676.76,127.53 L685.83,127.53" fill="none" stroke="#111" stroke-width="1.05" stroke-linecap="round" stroke-linejoin="round"/>
<path d="M770.16,118.17 L771.46,117.62 L773.40,115.97 L773.40,127.53M781.82,118.72 L781.82,118.17 L782.46,117.07 L783.11,116.52 L784.40,115.97 L786.99,115.97 L788.29,116.52 L788.94,117.07 L789.58,118.17 L789.58,119.27 L788.94,120.37 L787.64,122.03 L781.17,127.53 L790.23,127.53M803.18,115.97 L794.11,127.53M794.11,115.97 L803.18,115.97M794.11,127.53 L803.18,127.53" fill="none" stroke="#111" stroke-width="1.05" stroke-linecap="round" stroke-linejoin="round"/>
<path d="M888.81,97.97 L882.33,97.97 L881.69,102.92 L882.33,102.37 L884.28,101.82 L886.22,101.82 L888.16,102.37 L889.45,103.47 L890.10,105.13 L890.10,106.23 L889.45,107.88 L888.16,108.98 L886.22,109.53 L884.28,109.53 L882.33,108.98 L881.69,108.43 L881.04,107.33M897.87,97.97 L892.69,109.53M897.87,97.97 L903.05,109.53M894.63,105.68 L901.11,105.68M906.28,97.97 L906.28,109.53M906.28,97.97 L912.11,97.97 L914.05,98.52 L914.70,99.07 L915.35,100.17 L915.35,101.82 L914.70,102.92 L914.05,103.47 L912.11,104.03 L906.28,104.03M919.88,97.97 L919.88,109.53M919.88,97.97 L925.70,97.97 L927.65,98.52 L928.29,99.07 L928.94,100.17 L928.94,101.27 L928.29,102.37 L927.65,102.92 L925.70,103.47 L919.88,103.47M924.41,103.47 L928.94,109.53" fill="none" stroke="#111" stroke-width="1.05" stroke-linecap="round" stroke-linejoin="round"/>
<path d="M891.40,115.97 L889.45,116.52 L888.16,118.17 L887.51,120.92 L887.51,122.58 L888.16,125.33 L889.45,126.98 L891.40,127.53 L892.69,127.53 L894.63,126.98 L895.93,125.33 L896.58,122.58 L896.58,120.92 L895.93,118.17 L894.63,116.52 L892.69,115.97 L891.40,115.97M904.34,115.97 L902.40,116.52 L901.11,118.17 L900.46,120.92 L900.46,122.58 L901.11,125.33 L902.40,126.98 L904.34,127.53 L905.64,127.53 L907.58,126.98 L908.87,125.33 L909.52,122.58 L909.52,120.92 L908.87,118.17 L907.58,116.52 L905.64,115.97 L904.34,115.97M922.47,115.97 L913.40,127.53M913.40,115.97 L922.47,115.97M913.40,127.53 L922.47,127.53" fill="none" stroke="#111" stroke-width="1.05" stroke-linecap="round" stroke-linejoin="round"/>
<path d="M292.99,920.77 L294.29,920.22 L296.23,918.57 L296.23,930.13M304.65,921.32 L304.65,920.77 L305.29,919.67 L305.94,919.12 L307.23,918.57 L309.82,918.57 L311.12,919.12 L311.77,919.67 L312.41,920.77 L312.41,921.87 L311.77,922.97 L310.47,924.63 L304.00,930.13 L313.06,930.13M326.01,918.57 L316.94,930.13M316.94,918.57 L326.01,918.57M316.94,930.13 L326.01,930.13" fill="none" stroke="#111" stroke-width="1.05" stroke-linecap="round" stroke-linejoin="round"/>
<path d="M286.20,939.32 L286.20,938.77 L286.84,937.67 L287.49,937.12 L288.79,936.57 L291.38,936.57 L292.67,937.12 L293.32,937.67 L293.96,938.77 L293.96,939.87 L293.32,940.97 L292.02,942.63 L285.55,948.13 L294.61,948.13M302.38,936.57 L297.20,948.13M302.38,936.57 L307.56,948.13M299.14,944.28 L305.62,944.28M310.79,936.57 L310.79,948.13M310.79,936.57 L316.62,936.57 L318.56,937.12 L319.21,937.67 L319.86,938.77 L319.86,940.42 L319.21,941.52 L318.56,942.07 L316.62,942.63 L310.79,942.63M324.39,936.57 L324.39,948.13M324.39,936.57 L330.21,936.57 L332.16,937.12 L332.80,937.67 L333.45,938.77 L333.45,939.87 L332.80,940.97 L332.16,941.52 L330.21,942.07 L324.39,942.07M328.92,942.07 L333.45,948.13" fill="none" stroke="#111" stroke-width="1.05" stroke-linecap="round" stroke-linejoin="round"/>
<path d="M286.20,957.32 L286.20,956.77 L286.84,955.67 L287.49,955.12 L288.79,954.57 L291.38,954.57 L292.67,955.12 L293.32,955.67 L293.96,956.77 L293.96,957.87 L293.32,958.97 L292.02,960.63 L285.55,966.13 L294.61,966.13M302.38,954.57 L300.44,955.12 L299.14,956.77 L298.50,959.52 L298.50,961.18 L299.14,963.93 L300.44,965.58 L302.38,966.13 L303.67,966.13 L305.62,965.58 L306.91,963.93 L307.56,961.18 L307.56,959.52 L306.91,956.77 L305.62,955.12 L303.67,954.57 L302.38,954.57M312.09,957.32 L312.09,956.77 L312.74,955.67 L313.38,955.12 L314.68,954.57 L317.27,954.57 L318.56,955.12 L319.21,955.67 L319.86,956.77 L319.86,957.87 L319.21,958.97 L317.91,960.63 L311.44,966.13 L320.50,966.13M332.80,956.22 L332.16,955.12 L330.21,954.57 L328.92,954.57 L326.98,955.12 L325.68,956.77 L325.04,959.52 L325.04,962.28 L325.68,964.48 L326.98,965.58 L328.92,966.13 L329.57,966.13 L331.51,965.58 L332.80,964.48 L333.45,962.83 L333.45,962.28 L332.80,960.63 L331.51,959.52 L329.57,958.97 L328.92,958.97 L326.98,959.52 L325.68,960.63 L325.04,962.28" fill="none" stroke="#111" stroke-width="1.05" stroke-linecap="round" stroke-linejoin="round"/>
<path d="M415.91,918.57 L413.96,919.12 L412.67,920.77 L412.02,923.52 L412.02,925.18 L412.67,927.93 L413.96,929.58 L415.91,930.13 L417.20,930.13 L419.14,929.58 L420.44,927.93 L421.09,925.18 L421.09,923.52 L420.44,920.77 L419.14,919.12 L417.20,918.57 L415.91,918.57M428.85,918.57 L426.91,919.12 L425.62,920.77 L424.97,923.52 L424.97,925.18 L425.62,927.93 L426.91,929.58 L428.85,930.13 L430.15,930.13 L432.09,929.58 L433.38,927.93 L434.03,925.18 L434.03,923.52 L433.38,920.77 L432.09,919.12 L430.15,918.57 L428.85,918.57M446.98,918.57 L437.91,930.13M437.91,918.57 L446.98,918.57M437.91,930.13 L446.98,930.13" fill="none" stroke="#111" stroke-width="1.05" stroke-linecap="round" stroke-linejoin="round"/>
<path d="M406.84,936.57 L413.96,936.57 L410.08,940.97 L412.02,940.97 L413.32,941.52 L413.96,942.07 L414.61,943.73 L414.61,944.83 L413.96,946.48 L412.67,947.58 L410.73,948.13 L408.79,948.13 L406.84,947.58 L406.20,947.03 L405.55,945.93M422.38,936.57 L417.20,948.13M422.38,936.57 L427.56,948.13M419.14,944.28 L425.62,944.28M430.79,936.57 L430.79,948.13M430.79,936.57 L436.62,936.57 L438.56,937.12 L439.21,937.67 L439.86,938.77 L439.86,940.42 L439.21,941.52 L438.56,942.07 L436.62,942.63 L430.79,942.63M444.39,936.57 L444.39,948.13M444.39,936.57 L450.21,936.57 L452.16,937.12 L452.80,937.67 L453.45,938.77 L453.45,939.87 L452.80,940.97 L452.16,941.52 L450.21,942.07 L444.39,942.07M448.92,942.07 L453.45,948.13" fill="none" stroke="#111" stroke-width="1.05" stroke-linecap="round" stroke-linejoin="round"/>
<path d="M532.99,920.77 L534.29,920.22 L536.23,918.57 L536.23,930.13M544.65,921.32 L544.65,920.77 L545.29,919.67 L545.94,919.12 L547.23,918.57 L549.82,918.57 L551.12,919.12 L551.77,919.67 L552.41,920.77 L552.41,921.87 L551.77,922.97 L550.47,924.63 L544.00,930.13 L553.06,930.13M566.01,918.57 L556.94,930.13M556.94,918.57 L566.01,918.57M556.94,930.13 L566.01,930.13" fill="none" stroke="#111" stroke-width="1.05" stroke-linecap="round" stroke-linejoin="round"/>
<path d="M655.91,918.57 L653.96,919.12 L652.67,920.77 L652.02,923.52 L652.02,925.18 L652.67,927.93 L653.96,929.58 L655.91,930.13 L657.20,930.13 L659.14,929.58 L660.44,927.93 L661.09,925.18 L661.09,923.52 L660.44,920.77 L659.14,919.12 L657.20,918.57 L655.91,918.57M668.85,918.57 L666.91,919.12 L665.62,920.77 L664.97,923.52 L664.97,925.18 L665.62,927.93 L666.91,929.58 L668.85,930.13 L670.15,930.13 L672.09,929.58 L673.38,927.93 L674.03,925.18 L674.03,923.52 L673.38,920.77 L672.09,919.12 L670.15,918.57 L668.85,918.57M686.98,918.57 L677.91,930.13M677.91,918.57 L686.98,918.57M677.91,930.13 L686.98,930.13" fill="none" stroke="#111" stroke-width="1.05" stroke-linecap="round" stroke-linejoin="round"/>
<path d="M652.02,936.57 L645.55,944.28 L655.26,944.28M652.02,936.57 L652.02,948.13M662.38,936.57 L657.20,948.13M662.38,936.57 L667.56,948.13M659.14,944.28 L665.62,944.28M670.79,936.57 L670.79,948.13M670.79,936.57 L676.62,936.57 L678.56,937.12 L679.21,937.67 L679.86,938.77 L679.86,940.42 L679.21,941.52 L678.56,942.07 L676.62,942.63 L670.79,942.63M684.39,936.57 L684.39,948.13M684.39,936.57 L690.21,936.57 L692.16,937.12 L692.80,937.67 L693.45,938.77 L693.45,939.87 L692.80,940.97 L692.16,941.52 L690.21,942.07 L684.39,942.07M688.92,942.07 L693.45,948.13" fill="none" stroke="#111" stroke-width="1.05" stroke-linecap="round" stroke-linejoin="round"/>
<path d="M772.99,920.77 L774.29,920.22 L776.23,918.57 L776.23,930.13M784.65,921.32 L784.65,920.77 L785.29,919.67 L785.94,919.12 L787.23,918.57 L789.82,918.57 L791.12,919.12 L791.77,919.67 L792.41,920.77 L792.41,921.87 L791.77,922.97 L790.47,924.63 L784.00,930.13 L793.06,930.13M806.01,918.57 L796.94,930.13M796.94,918.57 L806.01,918.57M796.94,930.13 L806.01,930.13" fill="none" stroke="#111" stroke-width="1.05" stroke-linecap="round" stroke-linejoin="round"/>
<path d="M894.91,918.57 L892.96,919.12 L891.67,920.77 L891.02,923.52 L891.02,925.18 L891.67,927.93 L892.96,929.58 L894.91,930.13 L896.20,930.13 L898.14,929.58 L899.44,927.93 L900.09,925.18 L900.09,923.52 L899.44,920.77 L898.14,919.12 L896.20,918.57 L894.91,918.57M907.85,918.57 L905.91,919.12 L904.62,920.77 L903.97,923.52 L903.97,925.18 L904.62,927.93 L905.91,929.58 L907.85,930.13 L909.15,930.13 L911.09,929.58 L912.38,927.93 L913.03,925.18 L913.03,923.52 L912.38,920.77 L911.09,919.12 L909.15,918.57 L907.85,918.57M925.98,918.57 L916.91,930.13M916.91,918.57 L925.98,918.57M916.91,930.13 L925.98,930.13" fill="none" stroke="#111" stroke-width="1.05" stroke-linecap="round" stroke-linejoin="round"/>
<path d="M892.32,936.57 L885.84,936.57 L885.20,941.52 L885.84,940.97 L887.79,940.42 L889.73,940.42 L891.67,940.97 L892.96,942.07 L893.61,943.73 L893.61,944.83 L892.96,946.48 L891.67,947.58 L889.73,948.13 L887.79,948.13 L885.84,947.58 L885.20,947.03 L884.55,945.93M901.38,936.57 L896.20,948.13M901.38,936.57 L906.56,948.13M898.14,944.28 L904.62,944.28M909.79,936.57 L909.79,948.13M909.79,936.57 L915.62,936.57 L917.56,937.12 L918.21,937.67 L918.86,938.77 L918.86,940.42 L918.21,941.52 L917.56,942.07 L915.62,942.63 L909.79,942.63M923.39,936.57 L923.39,948.13M923.39,936.57 L929.21,936.57 L931.16,937.12 L931.80,937.67 L932.45,938.77 L932.45,939.87 L931.80,940.97 L931.16,941.52 L929.21,942.07 L923.39,942.07M927.92,942.07 L932.45,948.13" fill="none" stroke="#111" stroke-width="1.05" stroke-linecap="round" stroke-linejoin="round"/>
<path d="M335.35,3.25 L335.35,14.95M335.35,3.25 L346.18,3.25M335.35,8.82 L342.02,8.82M353.69,6.59 L352.02,7.19 L350.35,8.38 L349.52,10.17 L349.52,11.37 L350.35,13.16 L352.02,14.35 L353.69,14.95 L356.19,14.95 L357.85,14.35 L359.52,13.16 L360.35,11.37 L360.35,10.17 L359.52,8.38 L357.85,7.19 L356.19,6.59 L353.69,6.59M366.19,6.59 L366.19,14.95M366.19,10.17 L367.02,8.38 L368.69,7.19 L370.35,6.59 L372.85,6.59M376.19,10.17 L386.19,10.17 L386.19,8.98 L385.36,7.79 L384.52,7.19 L382.86,6.59 L380.36,6.59 L378.69,7.19 L377.02,8.38 L376.19,10.17 L376.19,11.37 L377.02,13.16 L378.69,14.35 L380.36,14.95 L382.86,14.95 L384.52,14.35 L386.19,13.16M401.19,8.38 L399.52,7.19 L397.86,6.59 L395.36,6.59 L393.69,7.19 L392.02,8.38 L391.19,10.17 L391.19,11.37 L392.02,13.16 L393.69,14.35 L395.36,14.95 L397.86,14.95 L399.52,14.35 L401.19,13.16M416.19,6.59 L416.19,14.95M416.19,8.38 L414.53,7.19 L412.86,6.59 L410.36,6.59 L408.69,7.19 L407.03,8.38 L406.19,10.17 L406.19,11.37 L407.03,13.16 L408.69,14.35 L410.36,14.95 L412.86,14.95 L414.53,14.35 L416.19,13.16M431.20,8.38 L430.36,7.19 L427.86,6.59 L425.36,6.59 L422.86,7.19 L422.03,8.38 L422.86,9.58 L424.53,10.17 L428.70,10.77 L430.36,11.37 L431.20,12.56 L431.20,13.16 L430.36,14.35 L427.86,14.95 L425.36,14.95 L422.86,14.35 L422.03,13.16M437.86,3.25 L437.86,12.56 L438.70,14.35 L440.36,14.95 L442.03,14.95M435.36,6.59 L441.20,6.59M460.37,3.25 L460.37,14.95M460.37,3.25 L467.03,14.95M473.70,3.25 L467.03,14.95M473.70,3.25 L473.70,14.95M479.54,10.17 L489.54,10.17 L489.54,8.98 L488.70,7.79 L487.87,7.19 L486.20,6.59 L483.70,6.59 L482.04,7.19 L480.37,8.38 L479.54,10.17 L479.54,11.37 L480.37,13.16 L482.04,14.35 L483.70,14.95 L486.20,14.95 L487.87,14.35 L489.54,13.16M496.20,3.25 L496.20,12.56 L497.04,14.35 L498.70,14.95 L500.37,14.95M493.70,6.59 L499.54,6.59M504.54,10.17 L514.54,10.17 L514.54,8.98 L513.71,7.79 L512.87,7.19 L511.21,6.59 L508.71,6.59 L507.04,7.19 L505.37,8.38 L504.54,10.17 L504.54,11.37 L505.37,13.16 L507.04,14.35 L508.71,14.95 L511.21,14.95 L512.87,14.35 L514.54,13.16M523.71,6.59 L522.04,7.19 L520.37,8.38 L519.54,10.17 L519.54,11.37 L520.37,13.16 L522.04,14.35 L523.71,14.95 L526.21,14.95 L527.87,14.35 L529.54,13.16 L530.37,11.37 L530.37,10.17 L529.54,8.38 L527.87,7.19 L526.21,6.59 L523.71,6.59M545.38,6.59 L545.38,16.06 L544.54,17.74 L543.71,18.29 L542.04,18.85 L539.54,18.85 L537.88,18.29M545.38,8.38 L543.71,7.19 L542.04,6.59 L539.54,6.59 L537.88,7.19 L536.21,8.38 L535.38,10.17 L535.38,11.37 L536.21,13.16 L537.88,14.35 L539.54,14.95 L542.04,14.95 L543.71,14.35 L545.38,13.16M552.04,6.59 L552.04,14.95M552.04,10.17 L552.88,8.38 L554.54,7.19 L556.21,6.59 L558.71,6.59M572.05,6.59 L572.05,14.95M572.05,8.38 L570.38,7.19 L568.71,6.59 L566.21,6.59 L564.55,7.19 L562.88,8.38 L562.05,10.17 L562.05,11.37 L562.88,13.16 L564.55,14.35 L566.21,14.95 L568.71,14.95 L570.38,14.35 L572.05,13.16M578.71,6.59 L578.71,14.95M578.71,8.98 L581.21,7.19 L582.88,6.59 L585.38,6.59 L587.05,7.19 L587.88,8.98 L587.88,14.95M587.88,8.98 L590.38,7.19 L592.05,6.59 L594.55,6.59 L596.22,7.19 L597.05,8.98 L597.05,14.95" fill="none" stroke="rgb(236,190,90)" stroke-width="1.0" stroke-linecap="round" stroke-linejoin="round"/>
<text transform="translate(357.4,49.4) scale(1.3,1)" x="0" y="0" font-family="&quot;Liberation Serif&quot;, serif" font-size="24.2" fill="rgb(190,215,190)" stroke="rgb(190,215,190)" stroke-width="0.5" textLength="111.15" lengthAdjust="spacing">Mamushe</text>
<text transform="translate(354.6,47.2) scale(1.3,1)" x="0" y="0" font-family="&quot;Liberation Serif&quot;, serif" font-size="24.2" fill="#000" stroke="#000" stroke-width="0.5" textLength="111.15" lengthAdjust="spacing">Mamushe</text>
<path d="M26.07,49.37 L26.07,59.73M43.23,51.84 L42.45,50.85 L40.89,49.87 L39.33,49.37 L36.21,49.37 L34.65,49.87 L33.09,50.85 L32.31,51.84 L31.53,53.32 L31.53,55.78 L32.31,57.26 L33.09,58.25 L34.65,59.23 L36.21,59.73 L39.33,59.73 L40.89,59.23 L42.45,58.25 L43.23,57.26M52.59,49.37 L51.03,49.87 L49.47,50.85 L48.69,51.84 L47.91,53.32 L47.91,55.78 L48.69,57.26 L49.47,58.25 L51.03,59.23 L52.59,59.73 L55.71,59.73 L57.27,59.23 L58.83,58.25 L59.61,57.26 L60.39,55.78 L60.39,53.32 L59.61,51.84 L58.83,50.85 L57.27,49.87 L55.71,49.37 L52.59,49.37M65.84,49.37 L65.84,59.73M65.84,49.37 L76.76,59.73M76.76,49.37 L76.76,59.73M83.00,55.29 L97.04,55.29M103.28,49.37 L103.28,59.73M103.28,49.37 L113.41,49.37M103.28,54.30 L109.51,54.30M103.28,59.73 L113.41,59.73M118.09,49.37 L118.09,56.77 L118.87,58.25 L120.43,59.23 L122.77,59.73 L124.33,59.73 L126.67,59.23 L128.23,58.25 L129.01,56.77 L129.01,49.37M136.81,59.23 L136.03,59.73 L135.25,59.23 L136.03,58.74 L136.81,59.23 L136.81,60.22 L136.03,61.21 L135.25,61.70M154.74,55.78 L155.52,54.80 L157.08,54.30 L158.64,54.30 L160.20,54.80 L163.32,56.28 L164.88,56.77 L166.44,56.77 L168.00,56.28 L168.78,55.29M196.86,49.37 L189.06,59.73M185.94,49.37 L196.86,49.37M202.31,49.37 L202.31,59.73M210.11,52.33 L202.31,57.61M205.43,55.50 L210.89,59.73M215.57,52.33 L215.57,59.73M215.57,54.44 L217.91,52.86 L219.47,52.33 L221.81,52.33 L223.37,52.86 L224.15,54.44 L224.15,59.73M224.15,54.44 L226.49,52.86 L228.05,52.33 L230.39,52.33 L231.95,52.86 L232.73,54.44 L232.73,59.73" fill="none" stroke="rgb(170,72,228)" stroke-width="1.05" stroke-linecap="round" stroke-linejoin="round"/>
<path d="M589.45,16.38 L589.45,22.45M589.45,18.98 L590.05,17.68 L591.24,16.81 L592.43,16.38 L594.21,16.38M596.60,18.98 L603.74,18.98 L603.74,18.11 L603.15,17.25 L602.55,16.81 L601.36,16.38 L599.57,16.38 L598.38,16.81 L597.19,17.68 L596.60,18.98 L596.60,19.85 L597.19,21.15 L598.38,22.02 L599.57,22.45 L601.36,22.45 L602.55,22.02 L603.74,21.15M614.46,16.38 L614.46,25.28M614.46,17.68 L613.27,16.81 L612.08,16.38 L610.29,16.38 L609.10,16.81 L607.91,17.68 L607.32,18.98 L607.32,19.85 L607.91,21.15 L609.10,22.02 L610.29,22.45 L612.08,22.45 L613.27,22.02 L614.46,21.15M619.23,16.38 L619.23,20.72 L619.82,22.02 L621.01,22.45 L622.80,22.45 L623.99,22.02 L625.78,20.72M625.78,16.38 L625.78,22.45M629.95,18.98 L637.09,18.98 L637.09,18.11 L636.50,17.25 L635.90,16.81 L634.71,16.38 L632.92,16.38 L631.73,16.81 L630.54,17.68 L629.95,18.98 L629.95,19.85 L630.54,21.15 L631.73,22.02 L632.92,22.45 L634.71,22.45 L635.90,22.02 L637.09,21.15M647.22,17.68 L646.62,16.81 L644.83,16.38 L643.05,16.38 L641.26,16.81 L640.67,17.68 L641.26,18.55 L642.45,18.98 L645.43,19.41 L646.62,19.85 L647.22,20.72 L647.22,21.15 L646.62,22.02 L644.83,22.45 L643.05,22.45 L641.26,22.02 L640.67,21.15M651.98,13.95 L651.98,20.72 L652.58,22.02 L653.77,22.45 L654.96,22.45M650.19,16.38 L654.36,16.38M657.94,18.98 L665.08,18.98 L665.08,18.11 L664.49,17.25 L663.89,16.81 L662.70,16.38 L660.91,16.38 L659.72,16.81 L658.53,17.68 L657.94,18.98 L657.94,19.85 L658.53,21.15 L659.72,22.02 L660.91,22.45 L662.70,22.45 L663.89,22.02 L665.08,21.15M675.80,13.95 L675.80,22.45M675.80,17.68 L674.61,16.81 L673.42,16.38 L671.63,16.38 L670.44,16.81 L669.25,17.68 L668.66,18.98 L668.66,19.85 L669.25,21.15 L670.44,22.02 L671.63,22.45 L673.42,22.45 L674.61,22.02 L675.80,21.15M690.10,13.95 L690.10,22.45M697.24,16.38 L696.05,16.81 L694.86,17.68 L694.26,18.98 L694.26,19.85 L694.86,21.15 L696.05,22.02 L697.24,22.45 L699.03,22.45 L700.22,22.02 L701.41,21.15 L702.01,19.85 L702.01,18.98 L701.41,17.68 L700.22,16.81 L699.03,16.38 L697.24,16.38M706.17,16.38 L706.17,22.45M706.17,18.11 L707.96,16.81 L709.15,16.38 L710.94,16.38 L712.13,16.81 L712.73,18.11 L712.73,22.45M718.68,22.05 L718.09,22.45 L717.49,22.05 L718.09,21.64 L718.68,22.05 L718.68,22.85 L718.09,23.66 L717.49,24.07M723.45,13.95 L723.45,22.45M734.76,16.38 L734.76,22.45M734.76,17.68 L733.57,16.81 L732.38,16.38 L730.59,16.38 L729.40,16.81 L728.21,17.68 L727.61,18.98 L727.61,19.85 L728.21,21.15 L729.40,22.02 L730.59,22.45 L732.38,22.45 L733.57,22.02 L734.76,21.15M740.12,13.95 L740.12,20.72 L740.72,22.02 L741.91,22.45 L743.10,22.45M738.33,16.38 L742.50,16.38M760.37,12.33 L759.18,13.14 L757.99,14.35 L756.80,15.97 L756.20,18.00 L756.20,19.62 L756.80,21.64 L757.99,23.26 L759.18,24.47 L760.37,25.28M764.54,15.97 L764.54,15.57 L765.13,14.76 L765.73,14.35 L766.92,13.95 L769.30,13.95 L770.49,14.35 L771.09,14.76 L771.68,15.57 L771.68,16.38 L771.09,17.19 L769.90,18.40 L763.94,22.45 L772.28,22.45M779.43,13.95 L777.64,14.35 L776.45,15.57 L775.85,17.59 L775.85,18.81 L776.45,20.83 L777.64,22.05 L779.43,22.45 L780.62,22.45 L782.40,22.05 L783.59,20.83 L784.19,18.81 L784.19,17.59 L783.59,15.57 L782.40,14.35 L780.62,13.95 L779.43,13.95M788.95,21.64 L788.36,22.05 L788.95,22.45 L789.55,22.05 L788.95,21.64M802.06,13.95 L796.10,22.45M793.72,13.95 L802.06,13.95M806.22,15.97 L806.22,15.57 L806.82,14.76 L807.42,14.35 L808.61,13.95 L810.99,13.95 L812.18,14.35 L812.78,14.76 L813.37,15.57 L813.37,16.38 L812.78,17.19 L811.58,18.40 L805.63,22.45 L813.97,22.45M823.49,13.95 L817.54,19.62 L826.47,19.62M823.49,13.95 L823.49,22.45M830.05,15.97 L830.05,15.57 L830.64,14.76 L831.24,14.35 L832.43,13.95 L834.81,13.95 L836.00,14.35 L836.60,14.76 L837.19,15.57 L837.19,16.38 L836.60,17.19 L835.41,18.40 L829.45,22.45 L837.79,22.45M841.96,13.95 L841.96,22.45M841.96,13.95 L849.70,13.95M841.96,18.00 L846.72,18.00M841.96,22.45 L849.70,22.45M854.46,22.05 L853.87,22.45 L853.27,22.05 L853.87,21.64 L854.46,22.05 L854.46,22.85 L853.87,23.66 L853.27,24.07M874.12,13.95 L868.16,19.62 L877.09,19.62M874.12,13.95 L874.12,22.45M880.67,15.97 L880.67,15.57 L881.26,14.76 L881.86,14.35 L883.05,13.95 L885.43,13.95 L886.62,14.35 L887.22,14.76 L887.81,15.57 L887.81,16.38 L887.22,17.19 L886.03,18.40 L880.07,22.45 L888.41,22.45M893.17,21.64 L892.58,22.05 L893.17,22.45 L893.77,22.05 L893.17,21.64M899.13,13.95 L905.68,13.95 L902.11,17.19 L903.89,17.19 L905.08,17.59 L905.68,18.00 L906.27,19.21 L906.27,20.02 L905.68,21.24 L904.49,22.05 L902.70,22.45 L900.91,22.45 L899.13,22.05 L898.53,21.64 L897.94,20.83M910.44,15.97 L910.44,15.57 L911.04,14.76 L911.63,14.35 L912.83,13.95 L915.21,13.95 L916.40,14.35 L916.99,14.76 L917.59,15.57 L917.59,16.38 L916.99,17.19 L915.80,18.40 L909.85,22.45 L918.18,22.45M924.74,13.95 L922.95,14.35 L922.35,15.16 L922.35,15.97 L922.95,16.78 L924.14,17.19 L926.52,17.59 L928.31,18.00 L929.50,18.81 L930.10,19.62 L930.10,20.83 L929.50,21.64 L928.90,22.05 L927.12,22.45 L924.74,22.45 L922.95,22.05 L922.35,21.64 L921.76,20.83 L921.76,19.62 L922.35,18.81 L923.54,18.00 L925.33,17.59 L927.71,17.19 L928.90,16.78 L929.50,15.97 L929.50,15.16 L928.90,14.35 L927.12,13.95 L924.74,13.95M934.86,13.95 L941.41,13.95 L937.84,17.19 L939.62,17.19 L940.82,17.59 L941.41,18.00 L942.01,19.21 L942.01,20.02 L941.41,21.24 L940.22,22.05 L938.43,22.45 L936.65,22.45 L934.86,22.05 L934.26,21.64 L933.67,20.83M946.18,13.95 L946.18,22.45M946.18,13.95 L954.51,22.45M954.51,13.95 L954.51,22.45M958.68,12.33 L959.87,13.14 L961.06,14.35 L962.25,15.97 L962.85,18.00 L962.85,19.62 L962.25,21.64 L961.06,23.26 L959.87,24.47 L958.68,25.28" fill="none" stroke="rgb(170,72,228)" stroke-width="1.0" stroke-linecap="round" stroke-linejoin="round"/>
<path d="M533.62,34.48 L533.62,41.36 L533.03,42.57 L532.43,42.98 L531.23,43.38 L529.44,43.38 L528.24,42.98M533.62,35.78 L532.43,34.91 L531.23,34.48 L529.44,34.48 L528.24,34.91 L527.05,35.78 L526.45,37.08 L526.45,37.95 L527.05,39.25 L528.24,40.12 L529.44,40.55 L531.23,40.55 L532.43,40.12 L533.62,39.25M538.41,34.48 L538.41,40.55M538.41,37.08 L539.00,35.78 L540.20,34.91 L541.39,34.48 L543.19,34.48M545.58,32.05 L546.18,32.40 L546.77,32.05 L546.18,31.70 L545.58,32.05M546.18,34.48 L546.18,40.55M557.53,32.05 L557.53,40.55M557.53,35.78 L556.34,34.91 L555.14,34.48 L553.35,34.48 L552.15,34.91 L550.96,35.78 L550.36,37.08 L550.36,37.95 L550.96,39.25 L552.15,40.12 L553.35,40.55 L555.14,40.55 L556.34,40.12 L557.53,39.25M571.88,34.48 L571.88,43.38M571.88,35.78 L573.07,34.91 L574.27,34.48 L576.06,34.48 L577.26,34.91 L578.45,35.78 L579.05,37.08 L579.05,37.95 L578.45,39.25 L577.26,40.12 L576.06,40.55 L574.27,40.55 L573.07,40.12 L571.88,39.25M585.63,34.48 L584.43,34.91 L583.24,35.78 L582.64,37.08 L582.64,37.95 L583.24,39.25 L584.43,40.12 L585.63,40.55 L587.42,40.55 L588.62,40.12 L589.81,39.25 L590.41,37.95 L590.41,37.08 L589.81,35.78 L588.62,34.91 L587.42,34.48 L585.63,34.48M594.00,32.05 L594.59,32.40 L595.19,32.05 L594.59,31.70 L594.00,32.05M594.59,34.48 L594.59,40.55M599.38,34.48 L599.38,40.55M599.38,36.21 L601.17,34.91 L602.36,34.48 L604.16,34.48 L605.35,34.91 L605.95,36.21 L605.95,40.55M611.33,32.05 L611.33,38.82 L611.93,40.12 L613.12,40.55 L614.32,40.55M609.54,34.48 L613.72,34.48M634.05,35.78 L632.85,34.91 L631.65,34.48 L629.86,34.48 L628.67,34.91 L627.47,35.78 L626.87,37.08 L626.87,37.95 L627.47,39.25 L628.67,40.12 L629.86,40.55 L631.65,40.55 L632.85,40.12 L634.05,39.25M638.23,32.05 L638.23,40.55M645.40,34.48 L644.21,34.91 L643.01,35.78 L642.41,37.08 L642.41,37.95 L643.01,39.25 L644.21,40.12 L645.40,40.55 L647.20,40.55 L648.39,40.12 L649.59,39.25 L650.18,37.95 L650.18,37.08 L649.59,35.78 L648.39,34.91 L647.20,34.48 L645.40,34.48M660.35,35.78 L659.75,34.91 L657.96,34.48 L656.16,34.48 L654.37,34.91 L653.77,35.78 L654.37,36.65 L655.56,37.08 L658.55,37.51 L659.75,37.95 L660.35,38.82 L660.35,39.25 L659.75,40.12 L657.96,40.55 L656.16,40.55 L654.37,40.12 L653.77,39.25M663.93,37.08 L671.11,37.08 L671.11,36.21 L670.51,35.35 L669.91,34.91 L668.72,34.48 L666.92,34.48 L665.73,34.91 L664.53,35.78 L663.93,37.08 L663.93,37.95 L664.53,39.25 L665.73,40.12 L666.92,40.55 L668.72,40.55 L669.91,40.12 L671.11,39.25M681.27,35.78 L680.67,34.91 L678.88,34.48 L677.08,34.48 L675.29,34.91 L674.69,35.78 L675.29,36.65 L676.49,37.08 L679.47,37.51 L680.67,37.95 L681.27,38.82 L681.27,39.25 L680.67,40.12 L678.88,40.55 L677.08,40.55 L675.29,40.12 L674.69,39.25M686.05,32.05 L686.05,38.82 L686.65,40.12 L687.84,40.55 L689.04,40.55M684.26,34.48 L688.44,34.48M702.19,32.05 L702.19,40.55M709.36,34.48 L708.17,34.91 L706.97,35.78 L706.37,37.08 L706.37,37.95 L706.97,39.25 L708.17,40.12 L709.36,40.55 L711.16,40.55 L712.35,40.12 L713.55,39.25 L714.14,37.95 L714.14,37.08 L713.55,35.78 L712.35,34.91 L711.16,34.48 L709.36,34.48M718.33,34.48 L718.33,40.55M718.33,36.21 L720.12,34.91 L721.32,34.48 L723.11,34.48 L724.31,34.91 L724.90,36.21 L724.90,40.55M730.88,40.15 L730.28,40.55 L729.69,40.15 L730.28,39.74 L730.88,40.15 L730.88,40.95 L730.28,41.76 L729.69,42.17M735.66,32.05 L735.66,40.55M747.02,34.48 L747.02,40.55M747.02,35.78 L745.83,34.91 L744.63,34.48 L742.84,34.48 L741.64,34.91 L740.45,35.78 L739.85,37.08 L739.85,37.95 L740.45,39.25 L741.64,40.12 L742.84,40.55 L744.63,40.55 L745.83,40.12 L747.02,39.25M752.40,32.05 L752.40,38.82 L753.00,40.12 L754.19,40.55 L755.39,40.55M750.61,34.48 L754.79,34.48M772.72,30.43 L771.53,31.24 L770.33,32.45 L769.14,34.07 L768.54,36.10 L768.54,37.72 L769.14,39.74 L770.33,41.36 L771.53,42.57 L772.72,43.38M776.91,34.07 L776.91,33.67 L777.51,32.86 L778.10,32.45 L779.30,32.05 L781.69,32.05 L782.89,32.45 L783.48,32.86 L784.08,33.67 L784.08,34.48 L783.48,35.29 L782.29,36.50 L776.31,40.55 L784.68,40.55M791.85,32.05 L790.06,32.45 L788.86,33.67 L788.27,35.69 L788.27,36.91 L788.86,38.93 L790.06,40.15 L791.85,40.55 L793.05,40.55 L794.84,40.15 L796.04,38.93 L796.63,36.91 L796.63,35.69 L796.04,33.67 L794.84,32.45 L793.05,32.05 L791.85,32.05M801.42,39.74 L800.82,40.15 L801.42,40.55 L802.01,40.15 L801.42,39.74M814.57,32.05 L808.59,40.55M806.20,32.05 L814.57,32.05M825.33,32.05 L819.35,32.05 L818.75,35.69 L819.35,35.29 L821.14,34.88 L822.94,34.88 L824.73,35.29 L825.92,36.10 L826.52,37.31 L826.52,38.12 L825.92,39.34 L824.73,40.15 L822.94,40.55 L821.14,40.55 L819.35,40.15 L818.75,39.74 L818.15,38.93M830.71,32.05 L830.71,40.55M830.71,32.05 L838.48,32.05M830.71,36.10 L835.49,36.10M830.71,40.55 L838.48,40.55M843.26,40.15 L842.66,40.55 L842.06,40.15 L842.66,39.74 L843.26,40.15 L843.26,40.95 L842.66,41.76 L842.06,42.17M862.98,32.05 L857.01,37.72 L865.97,37.72M862.98,32.05 L862.98,40.55M869.56,34.07 L869.56,33.67 L870.16,32.86 L870.76,32.45 L871.95,32.05 L874.34,32.05 L875.54,32.45 L876.14,32.86 L876.73,33.67 L876.73,34.48 L876.14,35.29 L874.94,36.50 L868.96,40.55 L877.33,40.55M882.11,39.74 L881.52,40.15 L882.11,40.55 L882.71,40.15 L882.11,39.74M888.09,32.05 L894.67,32.05 L891.08,35.29 L892.87,35.29 L894.07,35.69 L894.67,36.10 L895.26,37.31 L895.26,38.12 L894.67,39.34 L893.47,40.15 L891.68,40.55 L889.88,40.55 L888.09,40.15 L887.49,39.74 L886.89,38.93M900.64,33.67 L901.84,33.26 L903.63,32.05 L903.63,40.55M911.40,34.07 L911.40,33.67 L912.00,32.86 L912.60,32.45 L913.79,32.05 L916.18,32.05 L917.38,32.45 L917.98,32.86 L918.58,33.67 L918.58,34.48 L917.98,35.29 L916.78,36.50 L910.81,40.55 L919.17,40.55M929.93,32.05 L923.96,32.05 L923.36,35.69 L923.96,35.29 L925.75,34.88 L927.54,34.88 L929.34,35.29 L930.53,36.10 L931.13,37.31 L931.13,38.12 L930.53,39.34 L929.34,40.15 L927.54,40.55 L925.75,40.55 L923.96,40.15 L923.36,39.74 L922.76,38.93M935.31,32.05 L935.31,40.55M935.31,32.05 L943.68,40.55M943.68,32.05 L943.68,40.55M947.87,30.43 L949.06,31.24 L950.26,32.45 L951.45,34.07 L952.05,36.10 L952.05,37.72 L951.45,39.74 L950.26,41.36 L949.06,42.57 L947.87,43.38" fill="none" stroke="rgb(170,72,228)" stroke-width="1.0" stroke-linecap="round" stroke-linejoin="round"/>
<path d="M779.45,50.45 L779.45,58.55M779.45,50.45 L784.83,50.45 L786.62,50.84 L787.22,51.22 L787.81,51.99 L787.81,53.15 L787.22,53.92 L786.62,54.31 L784.83,54.69 L779.45,54.69M794.38,52.76 L793.19,53.18 L792.00,54.00 L791.40,55.24 L791.40,56.07 L792.00,57.31 L793.19,58.14 L794.38,58.55 L796.18,58.55 L797.37,58.14 L798.57,57.31 L799.16,56.07 L799.16,55.24 L798.57,54.00 L797.37,53.18 L796.18,52.76 L794.38,52.76M802.75,50.45 L803.35,50.78 L803.94,50.45 L803.35,50.12 L802.75,50.45M803.35,52.76 L803.35,58.55M808.12,52.76 L808.12,58.55M808.12,54.42 L809.92,53.18 L811.11,52.76 L812.90,52.76 L814.10,53.18 L814.70,54.42 L814.70,58.55M820.07,50.45 L820.07,56.90 L820.67,58.14 L821.86,58.55 L823.06,58.55M818.28,52.76 L822.46,52.76M839.19,50.45 L834.41,58.55M839.19,50.45 L843.97,58.55M836.20,55.85 L842.18,55.85M846.96,50.45 L846.96,58.55M852.33,50.45 L852.33,56.90 L852.93,58.14 L854.12,58.55 L855.32,58.55M850.54,52.76 L854.72,52.76M858.31,50.45 L858.90,50.78 L859.50,50.45 L858.90,50.12 L858.31,50.45M858.90,52.76 L858.90,58.55M864.28,50.45 L864.28,56.90 L864.88,58.14 L866.07,58.55 L867.27,58.55M862.49,52.76 L866.67,52.76M870.85,52.76 L870.85,56.90 L871.45,58.14 L872.64,58.55 L874.44,58.55 L875.63,58.14 L877.42,56.90M877.42,52.76 L877.42,58.55M888.77,50.45 L888.77,58.55M888.77,54.00 L887.58,53.18 L886.38,52.76 L884.59,52.76 L883.40,53.18 L882.20,54.00 L881.60,55.24 L881.60,56.07 L882.20,57.31 L883.40,58.14 L884.59,58.55 L886.38,58.55 L887.58,58.14 L888.77,57.31M892.95,55.24 L900.12,55.24 L900.12,54.42 L899.53,53.59 L898.93,53.18 L897.73,52.76 L895.94,52.76 L894.75,53.18 L893.55,54.00 L892.95,55.24 L892.95,56.07 L893.55,57.31 L894.75,58.14 L895.94,58.55 L897.73,58.55 L898.93,58.14 L900.12,57.31M914.46,50.45 L921.03,50.45 L917.45,53.54 L919.24,53.54 L920.44,53.92 L921.03,54.31 L921.63,55.46 L921.63,56.24 L921.03,57.39 L919.84,58.16 L918.05,58.55 L916.25,58.55 L914.46,58.16 L913.86,57.78 L913.27,57.01M925.81,52.38 L925.81,51.99 L926.41,51.22 L927.01,50.84 L928.20,50.45 L930.59,50.45 L931.79,50.84 L932.38,51.22 L932.98,51.99 L932.98,52.76 L932.38,53.54 L931.19,54.69 L925.21,58.55 L933.58,58.55M944.93,53.15 L944.33,54.31 L943.14,55.08 L941.34,55.46 L940.75,55.46 L938.95,55.08 L937.76,54.31 L937.16,53.15 L937.16,52.76 L937.76,51.61 L938.95,50.84 L940.75,50.45 L941.34,50.45 L943.14,50.84 L944.33,51.61 L944.93,53.15 L944.93,55.08 L944.33,57.01 L943.14,58.16 L941.34,58.55 L940.15,58.55 L938.36,58.16 L937.76,57.39M949.71,52.76 L949.71,58.55M949.71,54.42 L951.50,53.18 L952.69,52.76 L954.49,52.76 L955.68,53.18 L956.28,54.42 L956.28,58.55M956.28,54.42 L958.07,53.18 L959.27,52.76 L961.06,52.76 L962.25,53.18 L962.85,54.42 L962.85,58.55" fill="none" stroke="rgb(170,72,228)" stroke-width="1.0" stroke-linecap="round" stroke-linejoin="round"/>
<path d="M717.25,68.65 L717.25,77.05M717.25,68.65 L722.03,77.05M726.81,68.65 L722.03,77.05M726.81,68.65 L726.81,77.05M733.98,71.05 L732.79,71.48 L731.59,72.34 L730.99,73.62 L730.99,74.48 L731.59,75.76 L732.79,76.62 L733.98,77.05 L735.77,77.05 L736.97,76.62 L738.16,75.76 L738.76,74.48 L738.76,73.62 L738.16,72.34 L736.97,71.48 L735.77,71.05 L733.98,71.05M749.52,68.65 L749.52,77.05M749.52,72.34 L748.32,71.48 L747.13,71.05 L745.34,71.05 L744.14,71.48 L742.95,72.34 L742.35,73.62 L742.35,74.48 L742.95,75.76 L744.14,76.62 L745.34,77.05 L747.13,77.05 L748.32,76.62 L749.52,75.76M753.70,73.62 L760.87,73.62 L760.87,72.76 L760.27,71.91 L759.68,71.48 L758.48,71.05 L756.69,71.05 L755.49,71.48 L754.30,72.34 L753.70,73.62 L753.70,74.48 L754.30,75.76 L755.49,76.62 L756.69,77.05 L758.48,77.05 L759.68,76.62 L760.87,75.76M765.06,68.65 L765.06,77.05M779.40,68.65 L779.40,77.05M779.40,68.65 L784.78,68.65 L786.57,69.05 L787.17,69.45 L787.76,70.25 L787.76,71.45 L787.17,72.25 L786.57,72.65 L784.78,73.05 L779.40,73.05M794.34,71.05 L793.14,71.48 L791.95,72.34 L791.35,73.62 L791.35,74.48 L791.95,75.76 L793.14,76.62 L794.34,77.05 L796.13,77.05 L797.32,76.62 L798.52,75.76 L799.12,74.48 L799.12,73.62 L798.52,72.34 L797.32,71.48 L796.13,71.05 L794.34,71.05M802.70,68.65 L803.30,68.99 L803.90,68.65 L803.30,68.31 L802.70,68.65M803.30,71.05 L803.30,77.05M808.08,71.05 L808.08,77.05M808.08,72.76 L809.87,71.48 L811.07,71.05 L812.86,71.05 L814.06,71.48 L814.65,72.76 L814.65,77.05M820.03,68.65 L820.03,75.34 L820.63,76.62 L821.82,77.05 L823.02,77.05M818.24,71.05 L822.42,71.05M839.15,68.65 L834.37,77.05M839.15,68.65 L843.93,77.05M836.17,74.25 L842.14,74.25M846.92,68.65 L846.92,77.05M852.30,68.65 L852.30,75.34 L852.90,76.62 L854.09,77.05 L855.29,77.05M850.51,71.05 L854.69,71.05M858.28,68.65 L858.87,68.99 L859.47,68.65 L858.87,68.31 L858.28,68.65M858.87,71.05 L858.87,77.05M864.25,68.65 L864.25,75.34 L864.85,76.62 L866.04,77.05 L867.24,77.05M862.46,71.05 L866.64,71.05M870.82,71.05 L870.82,75.34 L871.42,76.62 L872.62,77.05 L874.41,77.05 L875.61,76.62 L877.40,75.34M877.40,71.05 L877.40,77.05M888.75,68.65 L888.75,77.05M888.75,72.34 L887.56,71.48 L886.36,71.05 L884.57,71.05 L883.37,71.48 L882.18,72.34 L881.58,73.62 L881.58,74.48 L882.18,75.76 L883.37,76.62 L884.57,77.05 L886.36,77.05 L887.56,76.62 L888.75,75.76M892.93,73.62 L900.11,73.62 L900.11,72.76 L899.51,71.91 L898.91,71.48 L897.72,71.05 L895.92,71.05 L894.73,71.48 L893.53,72.34 L892.93,73.62 L892.93,74.48 L893.53,75.76 L894.73,76.62 L895.92,77.05 L897.72,77.05 L898.91,76.62 L900.11,75.76M914.45,68.65 L921.02,68.65 L917.43,71.85 L919.23,71.85 L920.42,72.25 L921.02,72.65 L921.62,73.85 L921.62,74.65 L921.02,75.85 L919.83,76.65 L918.03,77.05 L916.24,77.05 L914.45,76.65 L913.85,76.25 L913.25,75.45M932.97,69.85 L932.37,69.05 L930.58,68.65 L929.39,68.65 L927.59,69.05 L926.40,70.25 L925.80,72.25 L925.80,74.25 L926.40,75.85 L927.59,76.65 L929.39,77.05 L929.98,77.05 L931.78,76.65 L932.97,75.85 L933.57,74.65 L933.57,74.25 L932.97,73.05 L931.78,72.25 L929.98,71.85 L929.39,71.85 L927.59,72.25 L926.40,73.05 L925.80,74.25M944.92,71.45 L944.33,72.65 L943.13,73.45 L941.34,73.85 L940.74,73.85 L938.95,73.45 L937.75,72.65 L937.15,71.45 L937.15,71.05 L937.75,69.85 L938.95,69.05 L940.74,68.65 L941.34,68.65 L943.13,69.05 L944.33,69.85 L944.92,71.45 L944.92,73.45 L944.33,75.45 L943.13,76.65 L941.34,77.05 L940.14,77.05 L938.35,76.65 L937.75,75.85M949.70,71.05 L949.70,77.05M949.70,72.76 L951.50,71.48 L952.69,71.05 L954.48,71.05 L955.68,71.48 L956.28,72.76 L956.28,77.05M956.28,72.76 L958.07,71.48 L959.26,71.05 L961.06,71.05 L962.25,71.48 L962.85,72.76 L962.85,77.05" fill="none" stroke="rgb(170,72,228)" stroke-width="1.0" stroke-linecap="round" stroke-linejoin="round"/>
<path d="M0.59,-14.42 L0.59,-0.59M0.59,-14.42 L4.62,-14.42 L5.96,-13.76 L6.41,-13.10 L6.86,-11.78 L6.86,-9.81 L6.41,-8.49 L5.96,-7.83 L4.62,-7.17 L0.59,-7.17M10.00,-14.42 L10.00,-0.59M10.00,-14.42 L14.03,-14.42 L15.38,-13.76 L15.83,-13.10 L16.27,-11.78 L16.27,-10.46 L15.83,-9.15 L15.38,-8.49 L14.03,-7.83 L10.00,-7.83M13.14,-7.83 L16.27,-0.59M19.41,-14.42 L19.41,-0.59M19.41,-14.42 L23.00,-0.59M26.58,-14.42 L23.00,-0.59M26.58,-14.42 L26.58,-0.59M36.00,-12.44 L35.10,-13.76 L33.76,-14.42 L31.96,-14.42 L30.62,-13.76 L29.72,-12.44 L29.72,-11.12 L30.17,-9.81 L30.62,-9.15 L31.52,-8.49 L34.20,-7.17 L35.10,-6.51 L35.55,-5.85 L36.00,-4.54 L36.00,-2.56 L35.10,-1.24 L33.76,-0.59 L31.96,-0.59 L30.62,-1.24 L29.72,-2.56M39.14,-14.42 L39.14,-0.59M39.14,-0.59 L44.51,-0.59" fill="none" stroke="rgb(0,160,255)" stroke-width="1.3" stroke-linecap="round" stroke-linejoin="round" transform="translate(25.6,236) rotate(-90)"/>
<path d="M0.58,-14.42 L0.58,-0.59M0.58,-14.42 L4.76,-14.42 L6.15,-13.76 L6.61,-13.10 L7.08,-11.78 L7.08,-9.81 L6.61,-8.49 L6.15,-7.83 L4.76,-7.17 L0.58,-7.17M10.32,-10.46 L10.32,-0.59M10.32,-6.23 L10.78,-8.35 L11.71,-9.76 L12.64,-10.46 L14.03,-10.46M15.88,-6.23 L21.45,-6.23 L21.45,-7.64 L20.98,-9.05 L20.52,-9.76 L19.59,-10.46 L18.20,-10.46 L17.27,-9.76 L16.35,-8.35 L15.88,-6.23 L15.88,-4.82 L16.35,-2.70 L17.27,-1.29 L18.20,-0.59 L19.59,-0.59 L20.52,-1.29 L21.45,-2.70M29.33,-8.35 L28.86,-9.76 L27.47,-10.46 L26.08,-10.46 L24.69,-9.76 L24.23,-8.35 L24.69,-6.94 L25.62,-6.23 L27.94,-5.52 L28.86,-4.82 L29.33,-3.41 L29.33,-2.70 L28.86,-1.29 L27.47,-0.59 L26.08,-0.59 L24.69,-1.29 L24.23,-2.70M37.21,-8.35 L36.75,-9.76 L35.35,-10.46 L33.96,-10.46 L32.57,-9.76 L32.11,-8.35 L32.57,-6.94 L33.50,-6.23 L35.82,-5.52 L36.75,-4.82 L37.21,-3.41 L37.21,-2.70 L36.75,-1.29 L35.35,-0.59 L33.96,-0.59 L32.57,-1.29 L32.11,-2.70M40.45,-10.46 L40.45,-3.41 L40.92,-1.29 L41.85,-0.59 L43.24,-0.59 L44.16,-1.29 L45.55,-3.41M45.55,-10.46 L45.55,-0.59M49.26,-10.46 L49.26,-0.59M49.26,-6.23 L49.73,-8.35 L50.65,-9.76 L51.58,-10.46 L52.97,-10.46M54.83,-6.23 L60.39,-6.23 L60.39,-7.64 L59.93,-9.05 L59.46,-9.76 L58.53,-10.46 L57.14,-10.46 L56.22,-9.76 L55.29,-8.35 L54.83,-6.23 L54.83,-4.82 L55.29,-2.70 L56.22,-1.29 L57.14,-0.59 L58.53,-0.59 L59.46,-1.29 L60.39,-2.70M71.05,-14.42 L71.05,-0.59M71.05,-14.42 L75.22,-14.42 L76.62,-13.76 L77.08,-13.10 L77.54,-11.78 L77.54,-10.46 L77.08,-9.15 L76.62,-8.49 L75.22,-7.83 L71.05,-7.83M74.30,-7.83 L77.54,-0.59M80.32,-6.23 L85.89,-6.23 L85.89,-7.64 L85.42,-9.05 L84.96,-9.76 L84.03,-10.46 L82.64,-10.46 L81.71,-9.76 L80.79,-8.35 L80.32,-6.23 L80.32,-4.82 L80.79,-2.70 L81.71,-1.29 L82.64,-0.59 L84.03,-0.59 L84.96,-1.29 L85.89,-2.70M94.23,-14.42 L94.23,-0.59M94.23,-8.35 L93.30,-9.76 L92.38,-10.46 L90.99,-10.46 L90.06,-9.76 L89.13,-8.35 L88.67,-6.23 L88.67,-4.82 L89.13,-2.70 L90.06,-1.29 L90.99,-0.59 L92.38,-0.59 L93.30,-1.29 L94.23,-2.70M97.94,-10.46 L97.94,-3.41 L98.40,-1.29 L99.33,-0.59 L100.72,-0.59 L101.65,-1.29 L103.04,-3.41M103.04,-10.46 L103.04,-0.59M111.85,-8.35 L110.92,-9.76 L109.99,-10.46 L108.60,-10.46 L107.68,-9.76 L106.75,-8.35 L106.29,-6.23 L106.29,-4.82 L106.75,-2.70 L107.68,-1.29 L108.60,-0.59 L109.99,-0.59 L110.92,-1.29 L111.85,-2.70M114.63,-6.23 L120.19,-6.23 L120.19,-7.64 L119.73,-9.05 L119.27,-9.76 L118.34,-10.46 L116.95,-10.46 L116.02,-9.76 L115.09,-8.35 L114.63,-6.23 L114.63,-4.82 L115.09,-2.70 L116.02,-1.29 L116.95,-0.59 L118.34,-0.59 L119.27,-1.29 L120.19,-2.70M128.54,-14.42 L128.54,-0.59M128.54,-8.35 L127.61,-9.76 L126.68,-10.46 L125.29,-10.46 L124.37,-9.76 L123.44,-8.35 L122.97,-6.23 L122.97,-4.82 L123.44,-2.70 L124.37,-1.29 L125.29,-0.59 L126.68,-0.59 L127.61,-1.29 L128.54,-2.70M140.13,-14.42 L140.13,-3.41 L140.59,-1.29 L141.52,-0.59 L142.45,-0.59M138.74,-10.46 L141.98,-10.46M147.08,-10.46 L146.15,-9.76 L145.23,-8.35 L144.76,-6.23 L144.76,-4.82 L145.23,-2.70 L146.15,-1.29 L147.08,-0.59 L148.47,-0.59 L149.40,-1.29 L150.33,-2.70 L150.79,-4.82 L150.79,-6.23 L150.33,-8.35 L149.40,-9.76 L148.47,-10.46 L147.08,-10.46M161.45,-14.42 L161.45,-0.59M161.45,-14.42 L165.16,-0.59M168.87,-14.42 L165.16,-0.59M168.87,-14.42 L168.87,-0.59M178.61,-12.44 L177.68,-13.76 L176.29,-14.42 L174.43,-14.42 L173.04,-13.76 L172.12,-12.44 L172.12,-11.12 L172.58,-9.81 L173.04,-9.15 L173.97,-8.49 L176.75,-7.17 L177.68,-6.51 L178.14,-5.85 L178.61,-4.54 L178.61,-2.56 L177.68,-1.24 L176.29,-0.59 L174.43,-0.59 L173.04,-1.24 L172.12,-2.56M181.85,-14.42 L181.85,-0.59M181.85,-0.59 L187.41,-0.59" fill="none" stroke="rgb(0,160,255)" stroke-width="1.3" stroke-linecap="round" stroke-linejoin="round" transform="translate(49.8,307.5) rotate(-90)"/>
<path d="M3.80,-15.86 L2.88,-14.64 L1.96,-12.80 L1.04,-10.36 L0.58,-7.31 L0.58,-4.86 L1.04,-1.81 L1.96,0.64 L2.88,2.47 L3.80,3.69M7.01,-13.41 L7.01,-0.59M7.01,-7.13 L8.38,-9.09 L9.30,-9.75 L10.67,-9.75 L11.59,-9.09 L12.05,-7.13 L12.05,-0.59M15.72,-13.41 L15.72,-0.59M15.72,-13.41 L19.85,-13.41 L21.22,-12.80 L21.68,-12.19 L22.14,-10.97 L22.14,-9.14 L21.68,-7.92 L21.22,-7.31 L19.85,-6.69 L15.72,-6.69M30.39,-9.75 L30.39,-0.59M30.39,-7.79 L29.48,-9.09 L28.56,-9.75 L27.18,-9.75 L26.27,-9.09 L25.35,-7.79 L24.89,-5.82 L24.89,-4.51 L25.35,-2.55 L26.27,-1.24 L27.18,-0.59 L28.56,-0.59 L29.48,-1.24 L30.39,-2.55M33.60,-15.86 L34.52,-14.64 L35.44,-12.80 L36.36,-10.36 L36.82,-7.31 L36.82,-4.86 L36.36,-1.81 L35.44,0.64 L34.52,2.47 L33.60,3.69" fill="none" stroke="#000" stroke-width="1.3" stroke-linecap="round" stroke-linejoin="round" transform="translate(106.5,232.4) rotate(-90)"/>
<path d="M0.59,-14.42 L2.83,-0.59M5.08,-14.42 L2.83,-0.59M5.08,-14.42 L7.33,-0.59M9.58,-14.42 L7.33,-0.59M11.82,-14.42 L12.27,-13.85 L12.72,-14.42 L12.27,-14.98 L11.82,-14.42M12.27,-10.46 L12.27,-0.59M15.87,-10.46 L15.87,-0.59M15.87,-7.64 L17.22,-9.76 L18.12,-10.46 L19.47,-10.46 L20.37,-9.76 L20.82,-7.64 L20.82,-0.59M29.36,-14.42 L29.36,-0.59M29.36,-8.35 L28.46,-9.76 L27.56,-10.46 L26.21,-10.46 L25.31,-9.76 L24.41,-8.35 L23.96,-6.23 L23.96,-4.82 L24.41,-2.70 L25.31,-1.29 L26.21,-0.59 L27.56,-0.59 L28.46,-1.29 L29.36,-2.70M46.44,-11.12 L45.99,-12.44 L45.09,-13.76 L44.19,-14.42 L42.39,-14.42 L41.50,-13.76 L40.60,-12.44 L40.15,-11.12 L39.70,-9.15 L39.70,-5.85 L40.15,-3.88 L40.60,-2.56 L41.50,-1.24 L42.39,-0.59 L44.19,-0.59 L45.09,-1.24 L45.99,-2.56 L46.44,-3.88 L46.44,-5.85M44.19,-5.85 L46.44,-5.85M49.59,-14.42 L49.59,-4.54 L50.04,-2.56 L50.94,-1.24 L52.29,-0.59 L53.18,-0.59 L54.53,-1.24 L55.43,-2.56 L55.88,-4.54 L55.88,-14.42M65.32,-12.44 L64.42,-13.76 L63.07,-14.42 L61.28,-14.42 L59.93,-13.76 L59.03,-12.44 L59.03,-11.12 L59.48,-9.81 L59.93,-9.15 L60.83,-8.49 L63.52,-7.17 L64.42,-6.51 L64.87,-5.85 L65.32,-4.54 L65.32,-2.56 L64.42,-1.24 L63.07,-0.59 L61.28,-0.59 L59.93,-1.24 L59.03,-2.56M70.27,-14.42 L70.27,-0.59M67.12,-14.42 L73.42,-14.42" fill="none" stroke="rgb(250,60,60)" stroke-width="1.3" stroke-linecap="round" stroke-linejoin="round" transform="translate(25.6,405) rotate(-90)"/>
<path d="M0.58,-11.78 L1.50,-12.44 L2.87,-14.42 L2.87,-0.59M11.11,-14.42 L9.74,-13.76 L8.82,-11.78 L8.37,-8.49 L8.37,-6.51 L8.82,-3.22 L9.74,-1.24 L11.11,-0.59 L12.03,-0.59 L13.40,-1.24 L14.32,-3.22 L14.77,-6.51 L14.77,-8.49 L14.32,-11.78 L13.40,-13.76 L12.03,-14.42 L11.11,-14.42M17.98,-10.46 L17.98,-0.59M17.98,-7.64 L19.35,-9.76 L20.27,-10.46 L21.64,-10.46 L22.56,-9.76 L23.01,-7.64 L23.01,-0.59M23.01,-7.64 L24.39,-9.76 L25.30,-10.46 L26.68,-10.46 L27.59,-9.76 L28.05,-7.64 L28.05,-0.59M38.12,-14.42 L40.41,-0.59M42.70,-14.42 L40.41,-0.59M42.70,-14.42 L44.99,-0.59M47.27,-14.42 L44.99,-0.59M49.56,-14.42 L50.02,-13.85 L50.48,-14.42 L50.02,-14.98 L49.56,-14.42M50.02,-10.46 L50.02,-0.59M53.68,-10.46 L53.68,-0.59M53.68,-7.64 L55.06,-9.76 L55.97,-10.46 L57.34,-10.46 L58.26,-9.76 L58.72,-7.64 L58.72,-0.59M67.42,-14.42 L67.42,-0.59M67.42,-8.35 L66.50,-9.76 L65.58,-10.46 L64.21,-10.46 L63.30,-9.76 L62.38,-8.35 L61.92,-6.23 L61.92,-4.82 L62.38,-2.70 L63.30,-1.29 L64.21,-0.59 L65.58,-0.59 L66.50,-1.29 L67.42,-2.70" fill="none" stroke="#000" stroke-width="1.3" stroke-linecap="round" stroke-linejoin="round" transform="translate(49,409) rotate(-90)"/>
<path d="M7.04,-12.44 L6.12,-13.76 L4.73,-14.42 L2.89,-14.42 L1.51,-13.76 L0.59,-12.44 L0.59,-11.12 L1.05,-9.81 L1.51,-9.15 L2.43,-8.49 L5.19,-7.17 L6.12,-6.51 L6.58,-5.85 L7.04,-4.54 L7.04,-2.56 L6.12,-1.24 L4.73,-0.59 L2.89,-0.59 L1.51,-1.24 L0.59,-2.56M10.27,-10.46 L10.27,4.03M10.27,-8.35 L11.19,-9.76 L12.11,-10.46 L13.49,-10.46 L14.41,-9.76 L15.34,-8.35 L15.80,-6.23 L15.80,-4.82 L15.34,-2.70 L14.41,-1.29 L13.49,-0.59 L12.11,-0.59 L11.19,-1.29 L10.27,-2.70M18.56,-6.23 L24.10,-6.23 L24.10,-7.64 L23.63,-9.05 L23.17,-9.76 L22.25,-10.46 L20.87,-10.46 L19.95,-9.76 L19.02,-8.35 L18.56,-6.23 L18.56,-4.82 L19.02,-2.70 L19.95,-1.29 L20.87,-0.59 L22.25,-0.59 L23.17,-1.29 L24.10,-2.70M26.86,-6.23 L32.39,-6.23 L32.39,-7.64 L31.93,-9.05 L31.47,-9.76 L30.55,-10.46 L29.17,-10.46 L28.24,-9.76 L27.32,-8.35 L26.86,-6.23 L26.86,-4.82 L27.32,-2.70 L28.24,-1.29 L29.17,-0.59 L30.55,-0.59 L31.47,-1.29 L32.39,-2.70M40.69,-14.42 L40.69,-0.59M40.69,-8.35 L39.77,-9.76 L38.85,-10.46 L37.46,-10.46 L36.54,-9.76 L35.62,-8.35 L35.16,-6.23 L35.16,-4.82 L35.62,-2.70 L36.54,-1.29 L37.46,-0.59 L38.85,-0.59 L39.77,-1.29 L40.69,-2.70M56.83,-10.46 L56.83,-0.59M56.83,-8.35 L55.90,-9.76 L54.98,-10.46 L53.60,-10.46 L52.68,-9.76 L51.76,-8.35 L51.29,-6.23 L51.29,-4.82 L51.76,-2.70 L52.68,-1.29 L53.60,-0.59 L54.98,-0.59 L55.90,-1.29 L56.83,-2.70M60.51,-10.46 L60.51,-0.59M60.51,-7.64 L61.90,-9.76 L62.82,-10.46 L64.20,-10.46 L65.12,-9.76 L65.59,-7.64 L65.59,-0.59M74.34,-14.42 L74.34,-0.59M74.34,-8.35 L73.42,-9.76 L72.50,-10.46 L71.12,-10.46 L70.20,-9.76 L69.27,-8.35 L68.81,-6.23 L68.81,-4.82 L69.27,-2.70 L70.20,-1.29 L71.12,-0.59 L72.50,-0.59 L73.42,-1.29 L74.34,-2.70M85.41,-14.42 L85.41,-0.59M85.41,-14.42 L88.63,-14.42 L90.02,-13.76 L90.94,-12.44 L91.40,-11.12 L91.86,-9.15 L91.86,-5.85 L91.40,-3.88 L90.94,-2.56 L90.02,-1.24 L88.63,-0.59 L85.41,-0.59M94.63,-14.42 L95.09,-13.85 L95.55,-14.42 L95.09,-14.98 L94.63,-14.42M95.09,-10.46 L95.09,-0.59M98.78,-10.46 L98.78,-0.59M98.78,-6.23 L99.24,-8.35 L100.16,-9.76 L101.08,-10.46 L102.46,-10.46M104.31,-6.23 L109.84,-6.23 L109.84,-7.64 L109.38,-9.05 L108.92,-9.76 L108.00,-10.46 L106.61,-10.46 L105.69,-9.76 L104.77,-8.35 L104.31,-6.23 L104.31,-4.82 L104.77,-2.70 L105.69,-1.29 L106.61,-0.59 L108.00,-0.59 L108.92,-1.29 L109.84,-2.70M118.14,-8.35 L117.22,-9.76 L116.29,-10.46 L114.91,-10.46 L113.99,-9.76 L113.07,-8.35 L112.61,-6.23 L112.61,-4.82 L113.07,-2.70 L113.99,-1.29 L114.91,-0.59 L116.29,-0.59 L117.22,-1.29 L118.14,-2.70M121.83,-14.42 L121.83,-3.41 L122.29,-1.29 L123.21,-0.59 L124.13,-0.59M120.44,-10.46 L123.67,-10.46M126.44,-14.42 L126.90,-13.85 L127.36,-14.42 L126.90,-14.98 L126.44,-14.42M126.90,-10.46 L126.90,-0.59M132.43,-10.46 L131.51,-9.76 L130.59,-8.35 L130.12,-6.23 L130.12,-4.82 L130.59,-2.70 L131.51,-1.29 L132.43,-0.59 L133.81,-0.59 L134.73,-1.29 L135.66,-2.70 L136.12,-4.82 L136.12,-6.23 L135.66,-8.35 L134.73,-9.76 L133.81,-10.46 L132.43,-10.46M139.34,-10.46 L139.34,-0.59M139.34,-7.64 L140.73,-9.76 L141.65,-10.46 L143.03,-10.46 L143.95,-9.76 L144.41,-7.64 L144.41,-0.59" fill="none" stroke="rgb(0,220,0)" stroke-width="1.3" stroke-linecap="round" stroke-linejoin="round" transform="translate(72,440) rotate(-90)"/>
<path d="M3.80,-15.86 L2.88,-14.64 L1.96,-12.80 L1.04,-10.36 L0.59,-7.31 L0.59,-4.86 L1.04,-1.81 L1.96,0.64 L2.88,2.47 L3.80,3.69M7.01,-9.75 L7.01,-0.59M7.01,-7.13 L8.38,-9.09 L9.30,-9.75 L10.68,-9.75 L11.60,-9.09 L12.05,-7.13 L12.05,-0.59M12.05,-7.13 L13.43,-9.09 L14.35,-9.75 L15.72,-9.75 L16.64,-9.09 L17.10,-7.13 L17.10,-0.59M28.11,-15.86 L19.85,3.69M35.45,-7.79 L34.99,-9.09 L33.62,-9.75 L32.24,-9.75 L30.86,-9.09 L30.40,-7.79 L30.86,-6.48 L31.78,-5.82 L34.07,-5.17 L34.99,-4.51 L35.45,-3.20 L35.45,-2.55 L34.99,-1.24 L33.62,-0.59 L32.24,-0.59 L30.86,-1.24 L30.40,-2.55M38.20,-15.86 L39.12,-14.64 L40.04,-12.80 L40.96,-10.36 L41.42,-7.31 L41.42,-4.86 L40.96,-1.81 L40.04,0.64 L39.12,2.47 L38.20,3.69" fill="none" stroke="#000" stroke-width="1.3" stroke-linecap="round" stroke-linejoin="round" transform="translate(101.5,389) rotate(-90)"/>
<path d="M1.04,-11.12 L1.04,-11.78 L1.50,-13.10 L1.96,-13.76 L2.88,-14.42 L4.71,-14.42 L5.63,-13.76 L6.08,-13.10 L6.54,-11.78 L6.54,-10.46 L6.08,-9.15 L5.17,-7.17 L0.59,-0.59 L7.00,-0.59M10.21,-10.46 L10.21,-0.59M10.21,-7.64 L11.58,-9.76 L12.50,-10.46 L13.87,-10.46 L14.79,-9.76 L15.25,-7.64 L15.25,-0.59M15.25,-7.64 L16.62,-9.76 L17.54,-10.46 L18.92,-10.46 L19.83,-9.76 L20.29,-7.64 L20.29,-0.59M33.12,-14.42 L33.12,-0.59M29.91,-14.42 L36.33,-14.42M38.16,-6.23 L43.66,-6.23 L43.66,-7.64 L43.20,-9.05 L42.74,-9.76 L41.83,-10.46 L40.45,-10.46 L39.54,-9.76 L38.62,-8.35 L38.16,-6.23 L38.16,-4.82 L38.62,-2.70 L39.54,-1.29 L40.45,-0.59 L41.83,-0.59 L42.74,-1.29 L43.66,-2.70M46.87,-10.46 L46.87,-0.59M46.87,-7.64 L48.24,-9.76 L49.16,-10.46 L50.53,-10.46 L51.45,-9.76 L51.91,-7.64 L51.91,-0.59M51.91,-7.64 L53.28,-9.76 L54.20,-10.46 L55.58,-10.46 L56.49,-9.76 L56.95,-7.64 L56.95,-0.59M60.62,-10.46 L60.62,4.03M60.62,-8.35 L61.53,-9.76 L62.45,-10.46 L63.82,-10.46 L64.74,-9.76 L65.66,-8.35 L66.12,-6.23 L66.12,-4.82 L65.66,-2.70 L64.74,-1.29 L63.82,-0.59 L62.45,-0.59 L61.53,-1.29 L60.62,-2.70" fill="none" stroke="rgb(250,60,60)" stroke-width="1.3" stroke-linecap="round" stroke-linejoin="round" transform="translate(49,564) rotate(-90)"/>
<path d="M7.06,-12.44 L6.14,-13.76 L4.75,-14.42 L2.90,-14.42 L1.51,-13.76 L0.59,-12.44 L0.59,-11.12 L1.05,-9.81 L1.51,-9.15 L2.44,-8.49 L5.21,-7.17 L6.14,-6.51 L6.60,-5.85 L7.06,-4.54 L7.06,-2.56 L6.14,-1.24 L4.75,-0.59 L2.90,-0.59 L1.51,-1.24 L0.59,-2.56M10.30,-14.42 L10.30,-0.59M10.30,-14.42 L16.32,-14.42M10.30,-7.83 L14.00,-7.83M25.11,-11.12 L24.65,-12.44 L23.72,-13.76 L22.79,-14.42 L20.94,-14.42 L20.02,-13.76 L19.09,-12.44 L18.63,-11.12 L18.17,-9.15 L18.17,-5.85 L18.63,-3.88 L19.09,-2.56 L20.02,-1.24 L20.94,-0.59 L22.79,-0.59 L23.72,-1.24 L24.65,-2.56 L25.11,-3.88M37.60,-14.42 L37.60,-0.59M34.36,-14.42 L40.84,-14.42M42.69,-6.23 L48.24,-6.23 L48.24,-7.64 L47.78,-9.05 L47.32,-9.76 L46.39,-10.46 L45.00,-10.46 L44.08,-9.76 L43.15,-8.35 L42.69,-6.23 L42.69,-4.82 L43.15,-2.70 L44.08,-1.29 L45.00,-0.59 L46.39,-0.59 L47.32,-1.29 L48.24,-2.70M51.48,-10.46 L51.48,-0.59M51.48,-7.64 L52.87,-9.76 L53.80,-10.46 L55.18,-10.46 L56.11,-9.76 L56.57,-7.64 L56.57,-0.59M56.57,-7.64 L57.96,-9.76 L58.88,-10.46 L60.27,-10.46 L61.20,-9.76 L61.66,-7.64 L61.66,-0.59M65.36,-10.46 L65.36,4.03M65.36,-8.35 L66.29,-9.76 L67.21,-10.46 L68.60,-10.46 L69.53,-9.76 L70.45,-8.35 L70.92,-6.23 L70.92,-4.82 L70.45,-2.70 L69.53,-1.29 L68.60,-0.59 L67.21,-0.59 L66.29,-1.29 L65.36,-2.70" fill="none" stroke="rgb(230,175,45)" stroke-width="1.3" stroke-linecap="round" stroke-linejoin="round" transform="translate(72.3,562.5) rotate(-90)"/>
<path d="M6.00,-14.42 L6.00,-0.59M6.00,-8.35 L5.10,-9.76 L4.20,-10.46 L2.84,-10.46 L1.94,-9.76 L1.04,-8.35 L0.59,-6.23 L0.59,-4.82 L1.04,-2.70 L1.94,-1.29 L2.84,-0.59 L4.20,-0.59 L5.10,-1.29 L6.00,-2.70M9.16,-6.23 L14.58,-6.23 L14.58,-7.64 L14.13,-9.05 L13.68,-9.76 L12.78,-10.46 L11.42,-10.46 L10.52,-9.76 L9.62,-8.35 L9.16,-6.23 L9.16,-4.82 L9.62,-2.70 L10.52,-1.29 L11.42,-0.59 L12.78,-0.59 L13.68,-1.29 L14.58,-2.70M17.29,-10.46 L19.10,-0.59M20.90,-10.46 L19.10,-0.59M20.90,-10.46 L22.71,-0.59M24.52,-10.46 L22.71,-0.59M27.68,-10.46 L27.68,4.03M27.68,-8.35 L28.58,-9.76 L29.48,-10.46 L30.84,-10.46 L31.74,-9.76 L32.64,-8.35 L33.10,-6.23 L33.10,-4.82 L32.64,-2.70 L31.74,-1.29 L30.84,-0.59 L29.48,-0.59 L28.58,-1.29 L27.68,-2.70M36.71,-14.42 L36.71,-3.41 L37.16,-1.29 L38.06,-0.59 L38.97,-0.59M35.35,-10.46 L38.51,-10.46M50.70,-14.42 L50.70,-0.59M47.54,-14.42 L53.87,-14.42M55.67,-6.23 L61.09,-6.23 L61.09,-7.64 L60.64,-9.05 L60.19,-9.76 L59.28,-10.46 L57.93,-10.46 L57.03,-9.76 L56.12,-8.35 L55.67,-6.23 L55.67,-4.82 L56.12,-2.70 L57.03,-1.29 L57.93,-0.59 L59.28,-0.59 L60.19,-1.29 L61.09,-2.70M64.25,-10.46 L64.25,-0.59M64.25,-7.64 L65.61,-9.76 L66.51,-10.46 L67.86,-10.46 L68.77,-9.76 L69.22,-7.64 L69.22,-0.59M69.22,-7.64 L70.57,-9.76 L71.48,-10.46 L72.83,-10.46 L73.73,-9.76 L74.18,-7.64 L74.18,-0.59M77.80,-10.46 L77.80,4.03M77.80,-8.35 L78.70,-9.76 L79.60,-10.46 L80.96,-10.46 L81.86,-9.76 L82.76,-8.35 L83.22,-6.23 L83.22,-4.82 L82.76,-2.70 L81.86,-1.29 L80.96,-0.59 L79.60,-0.59 L78.70,-1.29 L77.80,-2.70" fill="none" stroke="rgb(0,220,0)" stroke-width="1.3" stroke-linecap="round" stroke-linejoin="round" transform="translate(96.4,568) rotate(-90)"/>
<path d="M3.61,-15.86 L2.75,-14.64 L1.88,-12.80 L1.02,-10.36 L0.58,-7.31 L0.58,-4.86 L1.02,-1.81 L1.88,0.64 L2.75,2.47 L3.61,3.69M12.69,-10.36 L12.26,-11.58 L11.40,-12.80 L10.53,-13.41 L8.80,-13.41 L7.94,-12.80 L7.07,-11.58 L6.64,-10.36 L6.21,-8.53 L6.21,-5.47 L6.64,-3.64 L7.07,-2.42 L7.94,-1.20 L8.80,-0.59 L10.53,-0.59 L11.40,-1.20 L12.26,-2.42 L12.69,-3.64M15.29,-15.86 L16.15,-14.64 L17.02,-12.80 L17.88,-10.36 L18.31,-7.31 L18.31,-4.86 L17.88,-1.81 L17.02,0.64 L16.15,2.47 L15.29,3.69" fill="none" stroke="#000" stroke-width="1.3" stroke-linecap="round" stroke-linejoin="round" transform="translate(119,532.5) rotate(-90)"/>
<path d="M3.82,-14.42 L3.82,-0.59M0.59,-14.42 L7.05,-14.42M11.20,-10.46 L10.28,-9.76 L9.35,-8.35 L8.89,-6.23 L8.89,-4.82 L9.35,-2.70 L10.28,-1.29 L11.20,-0.59 L12.58,-0.59 L13.51,-1.29 L14.43,-2.70 L14.89,-4.82 L14.89,-6.23 L14.43,-8.35 L13.51,-9.76 L12.58,-10.46 L11.20,-10.46M18.58,-14.42 L18.58,-3.41 L19.05,-1.29 L19.97,-0.59 L20.89,-0.59M17.20,-10.46 L20.43,-10.46M28.74,-10.46 L28.74,-0.59M28.74,-8.35 L27.82,-9.76 L26.89,-10.46 L25.51,-10.46 L24.58,-9.76 L23.66,-8.35 L23.20,-6.23 L23.20,-4.82 L23.66,-2.70 L24.58,-1.29 L25.51,-0.59 L26.89,-0.59 L27.82,-1.29 L28.74,-2.70M32.43,-14.42 L32.43,-0.59M49.97,-11.12 L49.51,-12.44 L48.58,-13.76 L47.66,-14.42 L45.82,-14.42 L44.89,-13.76 L43.97,-12.44 L43.51,-11.12 L43.05,-9.15 L43.05,-5.85 L43.51,-3.88 L43.97,-2.56 L44.89,-1.24 L45.82,-0.59 L47.66,-0.59 L48.58,-1.24 L49.51,-2.56 L49.97,-3.88M53.20,-14.42 L53.20,-0.59M58.74,-10.46 L57.82,-9.76 L56.89,-8.35 L56.43,-6.23 L56.43,-4.82 L56.89,-2.70 L57.82,-1.29 L58.74,-0.59 L60.12,-0.59 L61.05,-1.29 L61.97,-2.70 L62.43,-4.82 L62.43,-6.23 L61.97,-8.35 L61.05,-9.76 L60.12,-10.46 L58.74,-10.46M65.66,-10.46 L65.66,-3.41 L66.12,-1.29 L67.05,-0.59 L68.43,-0.59 L69.35,-1.29 L70.74,-3.41M70.74,-10.46 L70.74,-0.59M79.51,-14.42 L79.51,-0.59M79.51,-8.35 L78.58,-9.76 L77.66,-10.46 L76.28,-10.46 L75.35,-9.76 L74.43,-8.35 L73.97,-6.23 L73.97,-4.82 L74.43,-2.70 L75.35,-1.29 L76.28,-0.59 L77.66,-0.59 L78.58,-1.29 L79.51,-2.70M87.81,-8.35 L87.35,-9.76 L85.97,-10.46 L84.58,-10.46 L83.20,-9.76 L82.74,-8.35 L83.20,-6.94 L84.12,-6.23 L86.43,-5.52 L87.35,-4.82 L87.81,-3.41 L87.81,-2.70 L87.35,-1.29 L85.97,-0.59 L84.58,-0.59 L83.20,-1.29 L82.74,-2.70" fill="none" stroke="rgb(0,160,255)" stroke-width="1.3" stroke-linecap="round" stroke-linejoin="round" transform="translate(25.4,721.4) rotate(-90)"/>
<path d="M0.58,-14.42 L0.58,-0.59M0.58,-0.59 L6.23,-0.59M10.47,-10.46 L9.53,-9.76 L8.59,-8.35 L8.12,-6.23 L8.12,-4.82 L8.59,-2.70 L9.53,-1.29 L10.47,-0.59 L11.88,-0.59 L12.82,-1.29 L13.77,-2.70 L14.24,-4.82 L14.24,-6.23 L13.77,-8.35 L12.82,-9.76 L11.88,-10.46 L10.47,-10.46M17.06,-10.46 L18.94,-0.59M20.83,-10.46 L18.94,-0.59M20.83,-10.46 L22.71,-0.59M24.59,-10.46 L22.71,-0.59M42.01,-11.12 L41.54,-12.44 L40.60,-13.76 L39.66,-14.42 L37.78,-14.42 L36.83,-13.76 L35.89,-12.44 L35.42,-11.12 L34.95,-9.15 L34.95,-5.85 L35.42,-3.88 L35.89,-2.56 L36.83,-1.24 L37.78,-0.59 L39.66,-0.59 L40.60,-1.24 L41.54,-2.56 L42.01,-3.88M45.31,-14.42 L45.31,-0.59M50.96,-10.46 L50.02,-9.76 L49.07,-8.35 L48.60,-6.23 L48.60,-4.82 L49.07,-2.70 L50.02,-1.29 L50.96,-0.59 L52.37,-0.59 L53.31,-1.29 L54.25,-2.70 L54.72,-4.82 L54.72,-6.23 L54.25,-8.35 L53.31,-9.76 L52.37,-10.46 L50.96,-10.46M58.02,-10.46 L58.02,-3.41 L58.49,-1.29 L59.43,-0.59 L60.84,-0.59 L61.78,-1.29 L63.20,-3.41M63.20,-10.46 L63.20,-0.59M72.14,-14.42 L72.14,-0.59M72.14,-8.35 L71.20,-9.76 L70.26,-10.46 L68.85,-10.46 L67.90,-9.76 L66.96,-8.35 L66.49,-6.23 L66.49,-4.82 L66.96,-2.70 L67.90,-1.29 L68.85,-0.59 L70.26,-0.59 L71.20,-1.29 L72.14,-2.70M80.62,-8.35 L80.14,-9.76 L78.73,-10.46 L77.32,-10.46 L75.91,-9.76 L75.44,-8.35 L75.91,-6.94 L76.85,-6.23 L79.20,-5.52 L80.14,-4.82 L80.62,-3.41 L80.62,-2.70 L80.14,-1.29 L78.73,-0.59 L77.32,-0.59 L75.91,-1.29 L75.44,-2.70" fill="none" stroke="rgb(230,175,45)" stroke-width="1.3" stroke-linecap="round" stroke-linejoin="round" transform="translate(72.2,717.5) rotate(-90)"/>
<path d="M3.71,-15.86 L2.82,-14.64 L1.92,-12.80 L1.03,-10.36 L0.59,-7.31 L0.59,-4.86 L1.03,-1.81 L1.92,0.64 L2.82,2.47 L3.71,3.69M14.42,-13.41 L6.38,-0.59M8.62,-13.41 L9.51,-12.19 L9.51,-10.97 L9.06,-9.75 L8.17,-9.14 L7.28,-9.14 L6.38,-10.36 L6.38,-11.58 L6.83,-12.80 L7.72,-13.41 L8.62,-13.41 L9.51,-12.80 L10.85,-12.19 L12.18,-12.19 L13.52,-12.80 L14.42,-13.41M12.63,-4.86 L11.74,-4.25 L11.29,-3.03 L11.29,-1.81 L12.18,-0.59 L13.08,-0.59 L13.97,-1.20 L14.42,-2.42 L14.42,-3.64 L13.52,-4.86 L12.63,-4.86M17.09,-15.86 L17.98,-14.64 L18.88,-12.80 L19.77,-10.36 L20.22,-7.31 L20.22,-4.86 L19.77,-1.81 L18.88,0.64 L17.98,2.47 L17.09,3.69" fill="none" stroke="#000" stroke-width="1.3" stroke-linecap="round" stroke-linejoin="round" transform="translate(118.8,687.6) rotate(-90)"/>
<path d="M0.58,-10.97 L1.50,-11.58 L2.88,-13.41 L2.88,-0.59M8.86,-13.41 L8.86,-0.59M8.86,-7.13 L10.24,-9.09 L11.16,-9.75 L12.54,-9.75 L13.46,-9.09 L13.92,-7.13 L13.92,-0.59M17.60,-9.75 L17.60,-0.59M17.60,-5.82 L18.06,-7.79 L18.98,-9.09 L19.90,-9.75 L21.28,-9.75M30.94,-13.41 L30.94,-0.59M30.94,-13.41 L35.08,-13.41 L36.46,-12.80 L36.92,-12.19 L37.38,-10.97 L37.38,-9.14 L36.92,-7.92 L36.46,-7.31 L35.08,-6.69 L30.94,-6.69M40.60,-9.75 L40.60,-0.59M40.60,-5.82 L41.06,-7.79 L41.98,-9.09 L42.90,-9.75 L44.28,-9.75M46.12,-5.82 L51.64,-5.82 L51.64,-7.13 L51.18,-8.44 L50.72,-9.09 L49.80,-9.75 L48.42,-9.75 L47.50,-9.09 L46.58,-7.79 L46.12,-5.82 L46.12,-4.51 L46.58,-2.55 L47.50,-1.24 L48.42,-0.59 L49.80,-0.59 L50.72,-1.24 L51.64,-2.55M59.92,-7.79 L59.00,-9.09 L58.08,-9.75 L56.70,-9.75 L55.78,-9.09 L54.86,-7.79 L54.40,-5.82 L54.40,-4.51 L54.86,-2.55 L55.78,-1.24 L56.70,-0.59 L58.08,-0.59 L59.00,-1.24 L59.92,-2.55M62.68,-13.41 L63.14,-12.89 L63.60,-13.41 L63.14,-13.94 L62.68,-13.41M63.14,-9.75 L63.14,-0.59M66.82,-9.75 L66.82,3.69M66.82,-7.79 L67.74,-9.09 L68.66,-9.75 L70.04,-9.75 L70.96,-9.09 L71.88,-7.79 L72.34,-5.82 L72.34,-4.51 L71.88,-2.55 L70.96,-1.24 L70.04,-0.59 L68.66,-0.59 L67.74,-1.24 L66.82,-2.55M86.14,-15.86 L85.22,-14.64 L84.30,-12.80 L83.38,-10.36 L82.92,-7.31 L82.92,-4.86 L83.38,-1.81 L84.30,0.64 L85.22,2.47 L86.14,3.69M89.36,-9.75 L89.36,-0.59M89.36,-7.13 L90.74,-9.09 L91.66,-9.75 L93.04,-9.75 L93.96,-9.09 L94.42,-7.13 L94.42,-0.59M94.42,-7.13 L95.80,-9.09 L96.72,-9.75 L98.10,-9.75 L99.02,-9.09 L99.48,-7.13 L99.48,-0.59M103.16,-9.75 L103.16,-0.59M103.16,-7.13 L104.54,-9.09 L105.46,-9.75 L106.84,-9.75 L107.76,-9.09 L108.22,-7.13 L108.22,-0.59M108.22,-7.13 L109.60,-9.09 L110.52,-9.75 L111.90,-9.75 L112.82,-9.09 L113.28,-7.13 L113.28,-0.59M116.50,-15.86 L117.42,-14.64 L118.34,-12.80 L119.26,-10.36 L119.71,-7.31 L119.71,-4.86 L119.26,-1.81 L118.34,0.64 L117.42,2.47 L116.50,3.69" fill="none" stroke="#000" stroke-width="1.3" stroke-linecap="round" stroke-linejoin="round" transform="translate(136.6,888) rotate(-90)"/>
<g fill="none" stroke="rgb(180,90,240)" stroke-width="1.1" stroke-linecap="round" stroke-linejoin="round">
<path d="M93.3,323.8 L95.7,330.8 L98,325 L100.3,330.8 L102.6,323.8"/>
<path d="M121.3,324.2 L113.9,327.5 L121.3,330.8"/>
<path d="M125.2,327.5 H133.1 M137.3,327.5 H145.3"/>
<path d="M149.2,324.2 L156.6,327.5 L149.2,330.8"/>
<path d="M174.8,323.4 H168.5 V330.9 H174.8 M168.5,327.1 H172.8"/>
<path d="M132.3,299.1 V292.2 L139.6,299.1 V292.2"/>
<path d="M132.3,312 L135.95,305.9 L139.6,312"/>
<path d="M135.95,314.8 V320.9 M135.95,332.9 V339.5"/>
<path d="M132.3,342.5 L135.95,348.2 L139.6,342.5"/>
</g>
<path d="M139.20,352.43 L138.33,351.81 L137.02,351.50 L135.28,351.50 L133.97,351.81 L133.09,352.43 L133.09,353.05 L133.53,353.67 L133.97,353.98 L134.84,354.28 L137.46,354.90 L138.33,355.21 L138.77,355.52 L139.20,356.14 L139.20,357.07 L138.33,357.69 L137.02,358.00 L135.28,358.00 L133.97,357.69 L133.09,357.07" fill="none" stroke="rgb(180,90,240)" stroke-width="1.1" stroke-linecap="round" stroke-linejoin="round"/>
<path d="M18.67,812.92 L18.67,823.08M14.52,812.92 L22.83,812.92M28.17,815.82 L26.99,816.34 L25.80,817.38 L25.20,818.93 L25.20,819.97 L25.80,821.53 L26.99,822.56 L28.17,823.08 L29.95,823.08 L31.14,822.56 L32.33,821.53 L32.92,819.97 L32.92,818.93 L32.33,817.38 L31.14,816.34 L29.95,815.82 L28.17,815.82M37.67,812.92 L37.67,821.01 L38.27,822.56 L39.45,823.08 L40.64,823.08M35.89,815.82 L40.05,815.82M50.73,815.82 L50.73,823.08M50.73,817.38 L49.55,816.34 L48.36,815.82 L46.58,815.82 L45.39,816.34 L44.20,817.38 L43.61,818.93 L43.61,819.97 L44.20,821.53 L45.39,822.56 L46.58,823.08 L48.36,823.08 L49.55,822.56 L50.73,821.53M55.48,812.92 L55.48,823.08" fill="none" stroke="rgb(30,205,30)" stroke-width="1.15" stroke-linecap="round" stroke-linejoin="round"/>
<path d="M79.92,812.92 L79.92,823.08M79.92,812.92 L85.34,812.92 L87.15,813.40 L87.75,813.89 L88.36,814.85 L88.36,815.82 L87.75,816.79 L87.15,817.27 L85.34,817.76 L79.92,817.76M84.14,817.76 L88.36,823.08M99.21,815.82 L99.21,823.08M99.21,817.38 L98.00,816.34 L96.80,815.82 L94.99,815.82 L93.78,816.34 L92.58,817.38 L91.97,818.93 L91.97,819.97 L92.58,821.53 L93.78,822.56 L94.99,823.08 L96.80,823.08 L98.00,822.56 L99.21,821.53M103.43,812.92 L104.03,813.33 L104.63,812.92 L104.03,812.50 L103.43,812.92M104.03,815.82 L104.03,823.08M108.85,815.82 L108.85,823.08M108.85,817.90 L110.66,816.34 L111.87,815.82 L113.67,815.82 L114.88,816.34 L115.48,817.90 L115.48,823.08" fill="none" stroke="rgb(30,205,30)" stroke-width="1.15" stroke-linecap="round" stroke-linejoin="round"/>
<path d="M23.77,850.77 L22.59,849.80 L20.82,849.32 L18.46,849.32 L16.70,849.80 L15.52,850.77 L15.52,851.74 L16.11,852.71 L16.70,853.19 L17.87,853.67 L21.41,854.64 L22.59,855.13 L23.18,855.61 L23.77,856.58 L23.77,858.03 L22.59,859.00 L20.82,859.48 L18.46,859.48 L16.70,859.00 L15.52,858.03M27.89,852.22 L27.89,859.48M27.89,854.30 L29.66,852.74 L30.84,852.22 L32.61,852.22 L33.79,852.74 L34.37,854.30 L34.37,859.48M41.45,852.22 L40.27,852.74 L39.09,853.78 L38.50,855.33 L38.50,856.37 L39.09,857.93 L40.27,858.96 L41.45,859.48 L43.21,859.48 L44.39,858.96 L45.57,857.93 L46.16,856.37 L46.16,855.33 L45.57,853.78 L44.39,852.74 L43.21,852.22 L41.45,852.22M49.70,852.22 L52.05,859.48M54.41,852.22 L52.05,859.48M54.41,852.22 L56.77,859.48M59.13,852.22 L56.77,859.48M72.68,847.38 L62.07,862.87M77.39,851.25 L78.57,850.77 L80.34,849.32 L80.34,859.48M88.00,849.32 L88.00,859.48M88.00,854.30 L89.77,852.74 L90.95,852.22 L92.71,852.22 L93.89,852.74 L94.48,854.30 L94.48,859.48" fill="none" stroke="rgb(60,70,255)" stroke-width="1.15" stroke-linecap="round" stroke-linejoin="round"/>
<path d="M53.52,874.68 L53.52,890.17M53.52,874.68 L57.73,874.68M53.52,890.17 L57.73,890.17M68.58,881.08 L67.37,880.04 L66.17,879.52 L64.36,879.52 L63.16,880.04 L61.95,881.08 L61.35,882.63 L61.35,883.67 L61.95,885.23 L63.16,886.26 L64.36,886.78 L66.17,886.78 L67.37,886.26 L68.58,885.23M72.80,879.52 L72.80,886.78M72.80,881.60 L74.60,880.04 L75.81,879.52 L77.61,879.52 L78.82,880.04 L79.42,881.60 L79.42,886.78M79.42,881.60 L81.23,880.04 L82.43,879.52 L84.24,879.52 L85.45,880.04 L86.05,881.60 L86.05,886.78M94.48,874.68 L94.48,890.17M90.27,874.68 L94.48,874.68M90.27,890.17 L94.48,890.17" fill="none" stroke="rgb(60,70,255)" stroke-width="1.15" stroke-linecap="round" stroke-linejoin="round"/>
<text transform="translate(426.5,973.8) scale(1.3,1)" x="0" y="0" font-family="&quot;Liberation Serif&quot;, serif" font-size="16.6" fill="rgb(200,222,200)" textLength="69.38" lengthAdjust="spacing">Mamushe</text>
<text transform="translate(424.9,972) scale(1.3,1)" x="0" y="0" font-family="&quot;Liberation Serif&quot;, serif" font-size="16.6" fill="#585858" textLength="69.38" lengthAdjust="spacing">Mamushe</text>
<text transform="translate(984,726.5) rotate(-90)" x="0" y="0" font-family="&quot;Liberation Serif&quot;, serif" font-size="21.9" fill="rgb(214,227,214)" textLength="66.5" lengthAdjust="spacingAndGlyphs">by Angel</text>
</svg></body></html>
